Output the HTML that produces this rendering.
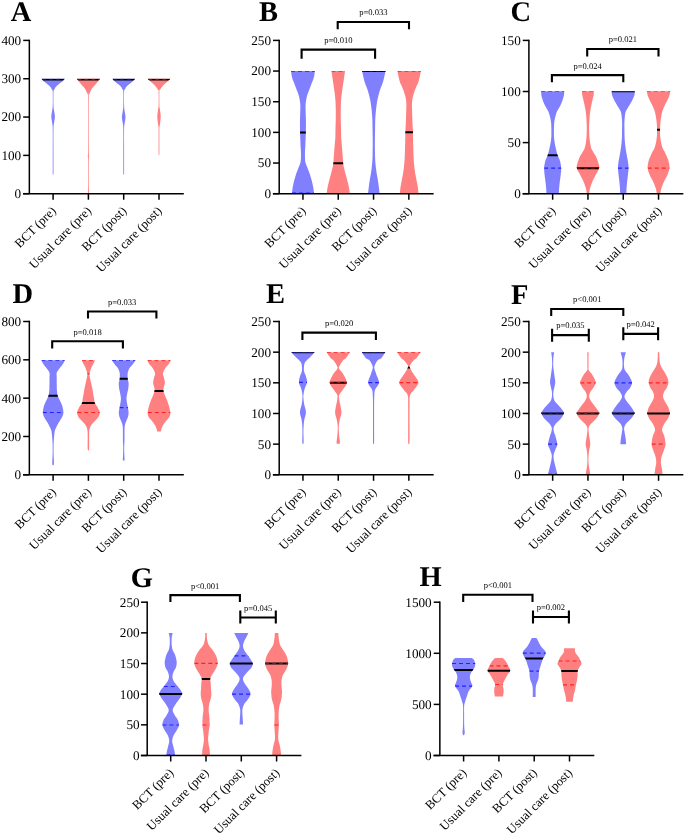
<!DOCTYPE html>
<html><head><meta charset="utf-8"><style>
html,body{margin:0;padding:0;background:#fff;}
svg{display:block;text-rendering:geometricPrecision;will-change:transform;}
.t{font-family:"Liberation Serif",serif;font-size:13.2px;fill:#000;}
.L{font-family:"Liberation Serif",serif;font-size:28.5px;font-weight:bold;fill:#000;}
.x{font-family:"Liberation Serif",serif;font-size:12.7px;fill:#000;}
.p{font-family:"Liberation Serif",serif;font-size:8.55px;fill:#000;}
</style></head><body>
<svg width="685" height="835" viewBox="0 0 685 835">
<rect width="100%" height="100%" fill="#fff"/>
<defs><polygon id="vA0" points="53.5,174.5 53.5,171.93 53.5,168.37 53.5,164.16 53.5,159.63 53.5,155.13 53.5,151 53.49,147 53.48,142.82 53.46,138.66 53.46,134.75 53.47,131.29 53.5,128.5 53.56,126.53 53.65,125.24 53.75,124.41 53.86,123.8 53.98,123.21 54.1,122.4 54.24,121.41 54.41,120.44 54.59,119.48 54.74,118.51 54.86,117.56 54.9,116.6 54.86,115.64 54.74,114.68 54.59,113.72 54.41,112.77 54.24,111.83 54.1,110.9 53.98,110.08 53.86,109.39 53.75,108.7 53.65,107.9 53.56,106.88 53.5,105.5 53.45,103.57 53.42,101.13 53.41,98.46 53.41,95.83 53.44,93.52 53.5,91.8 53.59,90.76 53.71,90.2 53.86,89.96 54.03,89.87 54.21,89.77 54.4,89.5 54.58,89.09 54.76,88.66 54.96,88.23 55.18,87.8 55.46,87.35 55.8,86.9 56.22,86.44 56.72,85.97 57.26,85.49 57.84,85.01 58.42,84.53 59,84.05 59.59,83.57 60.23,83.09 60.87,82.6 61.5,82.12 62.08,81.65 62.6,81.2 63.06,80.73 63.49,80.25 63.88,79.77 64.21,79.34 64.49,78.97 64.7,78.7 41.5,78.7 41.71,78.97 41.99,79.34 42.33,79.77 42.71,80.25 43.14,80.73 43.6,81.2 44.12,81.65 44.7,82.12 45.33,82.6 45.97,83.09 46.61,83.57 47.2,84.05 47.78,84.53 48.36,85.01 48.94,85.49 49.48,85.97 49.98,86.44 50.4,86.9 50.74,87.35 51.02,87.8 51.24,88.23 51.44,88.66 51.62,89.09 51.8,89.5 51.99,89.77 52.17,89.87 52.34,89.96 52.49,90.2 52.61,90.76 52.7,91.8 52.76,93.52 52.79,95.83 52.79,98.46 52.78,101.13 52.75,103.57 52.7,105.5 52.64,106.88 52.55,107.9 52.45,108.7 52.34,109.39 52.22,110.08 52.1,110.9 51.96,111.83 51.79,112.77 51.61,113.72 51.46,114.68 51.34,115.64 51.3,116.6 51.34,117.56 51.46,118.51 51.61,119.48 51.79,120.44 51.96,121.41 52.1,122.4 52.22,123.21 52.34,123.8 52.45,124.41 52.55,125.24 52.64,126.53 52.7,128.5 52.73,131.29 52.74,134.75 52.74,138.66 52.72,142.82 52.71,147 52.7,151 52.7,155.13 52.7,159.63 52.7,164.16 52.7,168.37 52.7,171.93 52.7,174.5"/><clipPath id="cA0"><use href="#vA0"/></clipPath></defs>
<use href="#vA0" fill="#8080ff"/>
<line x1="39.5" y1="79.4" x2="66.7" y2="79.4" stroke="#000" stroke-width="2" clip-path="url(#cA0)"/>
<line x1="42.04" y1="79.4" x2="65.16" y2="79.4" stroke="#10108a" stroke-width="1.2" stroke-dasharray="4 3" clip-path="url(#cA0)"/>
<defs><polygon id="vA1" points="88.8,193.7 88.81,193.29 88.84,192.72 88.86,192.04 88.88,191.31 88.9,190.58 88.9,189.9 88.89,189.5 88.86,189.39 88.83,189.27 88.8,188.86 88.77,187.87 88.75,186 88.74,182.84 88.73,178.54 88.73,173.66 88.73,168.76 88.73,164.38 88.75,161.1 88.78,159.04 88.83,157.78 88.89,157.06 88.94,156.6 88.98,156.13 89,155.4 88.98,154.98 88.94,155.21 88.89,155.43 88.83,155 88.78,153.28 88.75,149.6 88.73,142.96 88.71,133.67 88.71,123.08 88.71,112.53 88.72,103.39 88.75,97 88.79,93.72 88.85,92.56 88.91,92.79 88.99,93.71 89.09,94.62 89.2,94.8 89.33,94.38 89.46,93.94 89.62,93.49 89.79,93.01 89.98,92.52 90.2,92 90.44,91.45 90.69,90.86 90.96,90.25 91.27,89.63 91.61,89.01 92,88.4 92.46,87.8 92.97,87.2 93.53,86.6 94.1,86 94.67,85.4 95.2,84.8 95.71,84.19 96.23,83.56 96.73,82.93 97.22,82.32 97.68,81.74 98.1,81.2 98.5,80.69 98.88,80.19 99.23,79.73 99.54,79.31 99.8,78.96 100,78.7 76.8,78.7 77,78.96 77.26,79.31 77.57,79.73 77.92,80.19 78.3,80.69 78.7,81.2 79.12,81.74 79.58,82.32 80.07,82.93 80.57,83.56 81.09,84.19 81.6,84.8 82.13,85.4 82.7,86 83.27,86.6 83.83,87.2 84.34,87.8 84.8,88.4 85.19,89.01 85.53,89.63 85.84,90.25 86.11,90.86 86.36,91.45 86.6,92 86.82,92.52 87.01,93.01 87.18,93.49 87.34,93.94 87.47,94.38 87.6,94.8 87.71,94.62 87.81,93.71 87.89,92.79 87.95,92.56 88.01,93.72 88.05,97 88.08,103.39 88.09,112.53 88.09,123.08 88.09,133.67 88.07,142.96 88.05,149.6 88.02,153.28 87.97,155 87.91,155.43 87.86,155.21 87.82,154.98 87.8,155.4 87.82,156.13 87.86,156.6 87.91,157.06 87.97,157.78 88.02,159.04 88.05,161.1 88.07,164.38 88.07,168.76 88.08,173.66 88.07,178.54 88.06,182.84 88.05,186 88.03,187.87 88,188.86 87.97,189.27 87.94,189.39 87.91,189.5 87.9,189.9 87.9,190.58 87.92,191.31 87.94,192.04 87.96,192.72 87.99,193.29 88,193.7"/><clipPath id="cA1"><use href="#vA1"/></clipPath></defs>
<use href="#vA1" fill="#ff8080"/>
<line x1="74.8" y1="79.4" x2="102" y2="79.4" stroke="#000" stroke-width="2" clip-path="url(#cA1)"/>
<line x1="77.33" y1="79.4" x2="100.48" y2="79.4" stroke="#8a1010" stroke-width="1.2" stroke-dasharray="4 3" clip-path="url(#cA1)"/>
<defs><polygon id="vA2" points="124.1,174.5 124.1,171.93 124.1,168.35 124.1,164.12 124.1,159.59 124.1,155.1 124.1,151 124.09,147.06 124.08,142.97 124.06,138.91 124.06,135.1 124.07,131.73 124.1,129 124.16,127.06 124.25,125.78 124.35,124.94 124.46,124.32 124.58,123.72 124.7,122.9 124.84,121.91 125.01,120.94 125.19,119.98 125.34,119.01 125.46,118.06 125.5,117.1 125.46,116.14 125.34,115.18 125.19,114.22 125.01,113.27 124.84,112.33 124.7,111.4 124.58,110.59 124.46,109.91 124.35,109.25 124.25,108.46 124.16,107.42 124.1,106 124.05,103.97 124.02,101.39 124.01,98.55 124.01,95.76 124.04,93.31 124.1,91.5 124.19,90.43 124.31,89.87 124.46,89.66 124.63,89.61 124.81,89.55 125,89.3 125.18,88.89 125.36,88.47 125.56,88.04 125.78,87.6 126.06,87.15 126.4,86.7 126.83,86.24 127.33,85.78 127.88,85.31 128.45,84.84 129.03,84.37 129.6,83.9 130.17,83.43 130.77,82.95 131.38,82.48 131.96,82 132.51,81.54 133,81.1 133.44,80.65 133.84,80.18 134.21,79.72 134.53,79.31 134.8,78.96 135,78.7 112.4,78.7 112.6,78.96 112.87,79.31 113.19,79.72 113.56,80.18 113.96,80.65 114.4,81.1 114.89,81.54 115.44,82 116.03,82.48 116.63,82.95 117.23,83.43 117.8,83.9 118.37,84.37 118.95,84.84 119.53,85.31 120.07,85.78 120.57,86.24 121,86.7 121.34,87.15 121.62,87.6 121.84,88.04 122.04,88.47 122.22,88.89 122.4,89.3 122.59,89.55 122.77,89.61 122.94,89.66 123.09,89.87 123.21,90.43 123.3,91.5 123.36,93.31 123.39,95.76 123.39,98.55 123.38,101.39 123.35,103.97 123.3,106 123.24,107.42 123.15,108.46 123.05,109.25 122.94,109.91 122.82,110.59 122.7,111.4 122.56,112.33 122.39,113.27 122.21,114.22 122.06,115.18 121.94,116.14 121.9,117.1 121.94,118.06 122.06,119.01 122.21,119.98 122.39,120.94 122.56,121.91 122.7,122.9 122.82,123.72 122.94,124.32 123.05,124.94 123.15,125.78 123.24,127.06 123.3,129 123.33,131.73 123.34,135.1 123.34,138.91 123.32,142.97 123.31,147.06 123.3,151 123.3,155.1 123.3,159.59 123.3,164.12 123.3,168.35 123.3,171.93 123.3,174.5"/><clipPath id="cA2"><use href="#vA2"/></clipPath></defs>
<use href="#vA2" fill="#8080ff"/>
<line x1="110.4" y1="79.4" x2="137" y2="79.4" stroke="#000" stroke-width="2" clip-path="url(#cA2)"/>
<line x1="112.94" y1="79.4" x2="135.46" y2="79.4" stroke="#10108a" stroke-width="1.2" stroke-dasharray="4 3" clip-path="url(#cA2)"/>
<defs><polygon id="vA3" points="159.15,155.4 159.18,155.2 159.22,155.1 159.28,154.89 159.33,154.36 159.37,153.3 159.4,151.5 159.41,148.54 159.4,144.51 159.39,139.94 159.38,135.39 159.38,131.4 159.4,128.5 159.44,126.91 159.49,126.23 159.54,126.11 159.61,126.18 159.7,126.1 159.8,125.5 159.94,124.37 160.13,123 160.33,121.48 160.51,119.87 160.65,118.29 160.7,116.8 160.65,115.35 160.51,113.84 160.33,112.35 160.13,110.94 159.94,109.67 159.8,108.6 159.7,107.92 159.61,107.61 159.54,107.44 159.49,107.19 159.44,106.62 159.4,105.5 159.37,103.59 159.35,101.01 159.34,98.12 159.34,95.26 159.36,92.77 159.4,91 159.45,90.07 159.52,89.73 159.61,89.76 159.71,89.95 159.84,90.1 160,90 160.18,89.67 160.38,89.27 160.61,88.83 160.86,88.36 161.16,87.88 161.5,87.4 161.9,86.91 162.36,86.39 162.85,85.86 163.37,85.33 163.89,84.81 164.4,84.3 164.91,83.82 165.42,83.34 165.94,82.88 166.47,82.42 166.99,81.96 167.5,81.5 168.04,81 168.62,80.46 169.19,79.92 169.73,79.43 170.17,79 170.5,78.7 147.5,78.7 147.83,79 148.27,79.43 148.81,79.92 149.38,80.46 149.96,81 150.5,81.5 151.01,81.96 151.53,82.42 152.06,82.88 152.58,83.34 153.09,83.82 153.6,84.3 154.11,84.81 154.63,85.33 155.15,85.86 155.64,86.39 156.1,86.91 156.5,87.4 156.84,87.88 157.14,88.36 157.39,88.83 157.62,89.27 157.82,89.67 158,90 158.16,90.1 158.29,89.95 158.39,89.76 158.48,89.73 158.55,90.07 158.6,91 158.64,92.77 158.66,95.26 158.66,98.12 158.65,101.01 158.63,103.59 158.6,105.5 158.56,106.62 158.51,107.19 158.46,107.44 158.39,107.61 158.3,107.92 158.2,108.6 158.06,109.67 157.87,110.94 157.67,112.35 157.49,113.84 157.35,115.35 157.3,116.8 157.35,118.29 157.49,119.87 157.67,121.48 157.87,123 158.06,124.37 158.2,125.5 158.3,126.1 158.39,126.18 158.46,126.11 158.51,126.23 158.56,126.91 158.6,128.5 158.62,131.4 158.62,135.39 158.61,139.94 158.6,144.51 158.59,148.54 158.6,151.5 158.63,153.3 158.67,154.36 158.72,154.89 158.78,155.1 158.82,155.2 158.85,155.4"/><clipPath id="cA3"><use href="#vA3"/></clipPath></defs>
<use href="#vA3" fill="#ff8080"/>
<line x1="145.5" y1="79.4" x2="172.5" y2="79.4" stroke="#000" stroke-width="2" clip-path="url(#cA3)"/>
<line x1="148.25" y1="79.4" x2="170.75" y2="79.4" stroke="#8a1010" stroke-width="1.2" stroke-dasharray="4 3" clip-path="url(#cA3)"/>
<path d="M29.35,39.65V193.7M23,193.7H183.8" stroke="#000" stroke-width="1.5" fill="none"/>
<line x1="23.2" y1="193.7" x2="29.35" y2="193.7" stroke="#000" stroke-width="1.5"/>
<text x="21.2" y="198.1" text-anchor="end" class="t">0</text>
<line x1="23.2" y1="155.38" x2="29.35" y2="155.38" stroke="#000" stroke-width="1.5"/>
<text x="21.2" y="159.78" text-anchor="end" class="t">100</text>
<line x1="23.2" y1="117.05" x2="29.35" y2="117.05" stroke="#000" stroke-width="1.5"/>
<text x="21.2" y="121.45" text-anchor="end" class="t">200</text>
<line x1="23.2" y1="78.73" x2="29.35" y2="78.73" stroke="#000" stroke-width="1.5"/>
<text x="21.2" y="83.13" text-anchor="end" class="t">300</text>
<line x1="23.2" y1="40.4" x2="29.35" y2="40.4" stroke="#000" stroke-width="1.5"/>
<text x="21.2" y="44.8" text-anchor="end" class="t">400</text>
<line x1="53.1" y1="193.7" x2="53.1" y2="199.7" stroke="#000" stroke-width="1.5"/>
<text x="56.7" y="211.6" text-anchor="end" class="x" transform="rotate(-45 56.7 211.6)">BCT (pre)</text>
<line x1="88.4" y1="193.7" x2="88.4" y2="199.7" stroke="#000" stroke-width="1.5"/>
<text x="92" y="211.6" text-anchor="end" class="x" transform="rotate(-45 92 211.6)">Usual care (pre)</text>
<line x1="123.7" y1="193.7" x2="123.7" y2="199.7" stroke="#000" stroke-width="1.5"/>
<text x="127.3" y="211.6" text-anchor="end" class="x" transform="rotate(-45 127.3 211.6)">BCT (post)</text>
<line x1="159" y1="193.7" x2="159" y2="199.7" stroke="#000" stroke-width="1.5"/>
<text x="162.6" y="211.6" text-anchor="end" class="x" transform="rotate(-45 162.6 211.6)">Usual care (post)</text>
<text x="10.7" y="20.9" class="L">A</text>
<defs><polygon id="vB0" points="314.05,193.7 314.01,193.33 313.95,192.81 313.88,192.21 313.81,191.55 313.73,190.9 313.65,190.3 313.57,189.75 313.5,189.2 313.42,188.65 313.34,188.1 313.25,187.55 313.15,187 313.05,186.44 312.94,185.87 312.82,185.3 312.7,184.73 312.57,184.16 312.45,183.6 312.32,183.05 312.2,182.5 312.07,181.95 311.94,181.4 311.8,180.85 311.65,180.3 311.49,179.74 311.33,179.17 311.16,178.6 310.99,178.03 310.82,177.46 310.65,176.9 310.49,176.35 310.33,175.8 310.17,175.25 310.01,174.7 309.83,174.15 309.65,173.6 309.45,173.04 309.24,172.47 309.02,171.91 308.79,171.34 308.57,170.77 308.35,170.2 308.13,169.63 307.92,169.06 307.7,168.49 307.48,167.93 307.27,167.36 307.05,166.8 306.83,166.25 306.59,165.7 306.36,165.15 306.14,164.6 305.93,164.05 305.75,163.5 305.6,162.98 305.47,162.5 305.35,162.01 305.26,161.48 305.17,160.86 305.1,160.1 305.04,159.17 304.99,158.11 304.96,156.96 304.94,155.76 304.94,154.55 304.95,153.4 304.98,152.28 305.03,151.17 305.1,150.05 305.17,148.93 305.24,147.82 305.3,146.7 305.35,145.59 305.39,144.5 305.43,143.41 305.47,142.31 305.51,141.17 305.55,140 305.6,138.81 305.65,137.61 305.71,136.38 305.76,135.1 305.81,133.75 305.85,132.3 305.88,130.71 305.91,128.98 305.93,127.18 305.95,125.36 305.96,123.58 305.95,121.9 305.93,120.3 305.89,118.74 305.84,117.22 305.79,115.75 305.74,114.34 305.7,113 305.67,111.72 305.63,110.48 305.6,109.31 305.57,108.21 305.55,107.2 305.55,106.3 305.56,105.54 305.58,104.92 305.61,104.39 305.65,103.9 305.7,103.42 305.75,102.9 305.81,102.35 305.89,101.8 305.97,101.25 306.06,100.7 306.15,100.15 306.25,99.6 306.35,99.04 306.45,98.47 306.56,97.91 306.68,97.34 306.81,96.77 306.95,96.2 307.11,95.63 307.28,95.06 307.46,94.49 307.65,93.93 307.85,93.36 308.05,92.8 308.26,92.25 308.47,91.7 308.69,91.15 308.91,90.6 309.13,90.05 309.35,89.5 309.57,88.94 309.79,88.37 310.01,87.8 310.22,87.23 310.44,86.66 310.65,86.1 310.85,85.55 311.05,85 311.24,84.45 311.44,83.9 311.64,83.35 311.85,82.8 312.08,82.24 312.32,81.67 312.57,81.1 312.81,80.53 313.04,79.96 313.25,79.4 313.43,78.86 313.59,78.36 313.74,77.85 313.88,77.32 314.02,76.75 314.15,76.1 314.29,75.31 314.42,74.37 314.56,73.39 314.68,72.46 314.78,71.66 314.85,71.1 291.05,71.1 291.12,71.66 291.22,72.46 291.34,73.39 291.48,74.37 291.61,75.31 291.75,76.1 291.88,76.75 292.02,77.32 292.16,77.85 292.31,78.36 292.47,78.86 292.65,79.4 292.86,79.96 293.09,80.53 293.33,81.1 293.58,81.67 293.82,82.24 294.05,82.8 294.26,83.35 294.46,83.9 294.66,84.45 294.85,85 295.05,85.55 295.25,86.1 295.46,86.66 295.68,87.23 295.89,87.8 296.11,88.37 296.33,88.94 296.55,89.5 296.77,90.05 296.99,90.6 297.21,91.15 297.43,91.7 297.64,92.25 297.85,92.8 298.05,93.36 298.25,93.93 298.44,94.49 298.62,95.06 298.79,95.63 298.95,96.2 299.09,96.77 299.22,97.34 299.34,97.91 299.45,98.47 299.55,99.04 299.65,99.6 299.75,100.15 299.84,100.7 299.93,101.25 300.01,101.8 300.09,102.35 300.15,102.9 300.2,103.42 300.25,103.9 300.29,104.39 300.32,104.92 300.34,105.54 300.35,106.3 300.35,107.2 300.33,108.21 300.3,109.31 300.27,110.48 300.23,111.72 300.2,113 300.16,114.34 300.11,115.75 300.06,117.22 300.01,118.74 299.97,120.3 299.95,121.9 299.94,123.58 299.95,125.36 299.97,127.18 299.99,128.98 300.02,130.71 300.05,132.3 300.09,133.75 300.14,135.1 300.19,136.38 300.25,137.61 300.3,138.81 300.35,140 300.39,141.17 300.43,142.31 300.47,143.41 300.51,144.5 300.55,145.59 300.6,146.7 300.66,147.82 300.73,148.93 300.8,150.05 300.87,151.17 300.92,152.28 300.95,153.4 300.96,154.55 300.96,155.76 300.94,156.96 300.91,158.11 300.86,159.17 300.8,160.1 300.73,160.86 300.64,161.48 300.55,162.01 300.43,162.5 300.3,162.98 300.15,163.5 299.97,164.05 299.76,164.6 299.54,165.15 299.31,165.7 299.07,166.25 298.85,166.8 298.63,167.36 298.42,167.93 298.2,168.49 297.98,169.06 297.77,169.63 297.55,170.2 297.33,170.77 297.11,171.34 296.88,171.91 296.66,172.47 296.45,173.04 296.25,173.6 296.07,174.15 295.89,174.7 295.73,175.25 295.57,175.8 295.41,176.35 295.25,176.9 295.08,177.46 294.91,178.03 294.74,178.6 294.57,179.17 294.41,179.74 294.25,180.3 294.1,180.85 293.96,181.4 293.83,181.95 293.7,182.5 293.58,183.05 293.45,183.6 293.33,184.16 293.2,184.73 293.08,185.3 292.96,185.87 292.85,186.44 292.75,187 292.65,187.55 292.56,188.1 292.48,188.65 292.4,189.2 292.33,189.75 292.25,190.3 292.17,190.9 292.09,191.55 292.02,192.21 291.95,192.81 291.89,193.33 291.85,193.7"/><clipPath id="cB0"><use href="#vB0"/></clipPath></defs>
<use href="#vB0" fill="#8080ff"/>
<line x1="289.05" y1="132.4" x2="316.85" y2="132.4" stroke="#000" stroke-width="2" clip-path="url(#cB0)"/>
<line x1="291.05" y1="71.1" x2="315.85" y2="71.1" stroke="#2020ff" stroke-width="1.2" stroke-dasharray="4 3" clip-path="url(#cB0)"/>
<line x1="291.91" y1="193.2" x2="314.99" y2="193.2" stroke="#2020ff" stroke-width="1.2" stroke-dasharray="4 3" clip-path="url(#cB0)"/>
<defs><polygon id="vB1" points="349.85,193.7 349.85,193.69 349.85,193.71 349.86,193.72 349.85,193.65 349.81,193.43 349.75,193 349.65,192.31 349.54,191.42 349.39,190.37 349.23,189.25 349.05,188.1 348.85,187 348.63,185.92 348.38,184.82 348.11,183.69 347.82,182.56 347.54,181.42 347.25,180.3 346.96,179.18 346.66,178.07 346.36,176.96 346.05,175.84 345.75,174.72 345.45,173.6 345.15,172.44 344.84,171.22 344.52,170.01 344.23,168.83 343.97,167.75 343.75,166.8 343.58,166.01 343.45,165.34 343.36,164.77 343.28,164.24 343.21,163.73 343.15,163.2 343.1,162.7 343.06,162.26 343.04,161.84 343.02,161.38 343,160.82 342.95,160.1 342.88,159.19 342.81,158.13 342.72,156.97 342.63,155.77 342.54,154.56 342.45,153.4 342.37,152.28 342.29,151.17 342.21,150.05 342.12,148.93 342.04,147.82 341.95,146.7 341.85,145.54 341.74,144.31 341.63,143.09 341.52,141.93 341.43,140.88 341.35,140 341.29,139.41 341.25,139.08 341.22,138.87 341.2,138.62 341.18,138.18 341.15,137.4 341.12,136.23 341.1,134.77 341.08,133.13 341.06,131.39 341.03,129.65 341,128 340.96,126.42 340.91,124.84 340.87,123.26 340.82,121.67 340.78,120.08 340.75,118.5 340.73,116.92 340.72,115.33 340.71,113.75 340.71,112.17 340.72,110.58 340.75,109 340.79,107.42 340.83,105.83 340.88,104.25 340.95,102.67 341.04,101.08 341.15,99.5 341.29,97.91 341.46,96.31 341.64,94.71 341.84,93.11 342.05,91.54 342.25,90 342.45,88.51 342.66,87.06 342.88,85.64 343.09,84.2 343.32,82.73 343.55,81.2 343.81,79.47 344.09,77.56 344.38,75.6 344.65,73.77 344.88,72.21 345.05,71.1 331.45,71.1 331.62,72.21 331.85,73.77 332.12,75.6 332.41,77.56 332.69,79.47 332.95,81.2 333.18,82.73 333.41,84.2 333.62,85.64 333.84,87.06 334.05,88.51 334.25,90 334.45,91.54 334.66,93.11 334.86,94.71 335.04,96.31 335.21,97.91 335.35,99.5 335.46,101.08 335.55,102.67 335.62,104.25 335.67,105.83 335.71,107.42 335.75,109 335.78,110.58 335.79,112.17 335.79,113.75 335.78,115.33 335.77,116.92 335.75,118.5 335.72,120.08 335.68,121.67 335.63,123.26 335.59,124.84 335.54,126.42 335.5,128 335.47,129.65 335.44,131.39 335.42,133.13 335.4,134.77 335.38,136.23 335.35,137.4 335.32,138.18 335.3,138.62 335.28,138.87 335.25,139.08 335.21,139.41 335.15,140 335.07,140.88 334.98,141.93 334.87,143.09 334.76,144.31 334.65,145.54 334.55,146.7 334.46,147.82 334.38,148.93 334.29,150.05 334.21,151.17 334.13,152.28 334.05,153.4 333.96,154.56 333.87,155.77 333.78,156.97 333.69,158.13 333.62,159.19 333.55,160.1 333.5,160.82 333.48,161.38 333.46,161.84 333.44,162.26 333.4,162.7 333.35,163.2 333.29,163.73 333.22,164.24 333.14,164.77 333.05,165.34 332.92,166.01 332.75,166.8 332.53,167.75 332.27,168.83 331.98,170.01 331.66,171.22 331.35,172.44 331.05,173.6 330.75,174.72 330.45,175.84 330.14,176.96 329.84,178.07 329.54,179.18 329.25,180.3 328.96,181.42 328.68,182.56 328.39,183.69 328.12,184.82 327.87,185.92 327.65,187 327.45,188.1 327.27,189.25 327.11,190.37 326.96,191.42 326.85,192.31 326.75,193 326.69,193.43 326.65,193.65 326.64,193.72 326.65,193.71 326.65,193.69 326.65,193.7"/><clipPath id="cB1"><use href="#vB1"/></clipPath></defs>
<use href="#vB1" fill="#ff8080"/>
<line x1="324.64" y1="163.2" x2="351.86" y2="163.2" stroke="#000" stroke-width="2" clip-path="url(#cB1)"/>
<line x1="331.45" y1="71.1" x2="346.05" y2="71.1" stroke="#ff2020" stroke-width="1.2" stroke-dasharray="4 3" clip-path="url(#cB1)"/>
<defs><polygon id="vB2" points="379.6,193.7 379.6,193.69 379.6,193.71 379.59,193.72 379.58,193.65 379.55,193.43 379.5,193 379.42,192.31 379.32,191.42 379.2,190.37 379.07,189.25 378.94,188.1 378.8,187 378.67,185.92 378.53,184.82 378.38,183.69 378.23,182.56 378.07,181.42 377.9,180.3 377.71,179.18 377.51,178.07 377.3,176.96 377.09,175.84 376.89,174.72 376.7,173.6 376.53,172.47 376.37,171.34 376.21,170.2 376.07,169.06 375.93,167.93 375.8,166.8 375.68,165.68 375.56,164.56 375.46,163.44 375.36,162.33 375.27,161.22 375.2,160.1 375.14,158.98 375.1,157.87 375.07,156.75 375.04,155.63 375.02,154.52 375,153.4 374.98,152.28 374.96,151.17 374.94,150.05 374.92,148.93 374.91,147.82 374.9,146.7 374.89,145.64 374.89,144.66 374.88,143.68 374.88,142.63 374.89,141.42 374.9,140 374.92,138.28 374.95,136.3 374.99,134.18 375.03,132.01 375.06,129.92 375.1,128 375.13,126.27 375.14,124.65 375.16,123.09 375.19,121.57 375.23,120.05 375.3,118.5 375.39,116.92 375.5,115.33 375.62,113.75 375.77,112.17 375.93,110.58 376.1,109 376.29,107.42 376.48,105.83 376.69,104.25 376.93,102.67 377.2,101.08 377.5,99.5 377.84,97.91 378.23,96.31 378.64,94.71 379.07,93.11 379.53,91.54 380,90 380.5,88.51 381.05,87.06 381.61,85.64 382.17,84.2 382.71,82.73 383.2,81.2 383.66,79.47 384.12,77.56 384.55,75.6 384.94,73.77 385.26,72.21 385.5,71.1 362.1,71.1 362.34,72.21 362.66,73.77 363.05,75.6 363.48,77.56 363.94,79.47 364.4,81.2 364.89,82.73 365.43,84.2 365.99,85.64 366.55,87.06 367.1,88.51 367.6,90 368.07,91.54 368.53,93.11 368.96,94.71 369.37,96.31 369.76,97.91 370.1,99.5 370.4,101.08 370.67,102.67 370.91,104.25 371.12,105.83 371.31,107.42 371.5,109 371.68,110.58 371.83,112.17 371.98,113.75 372.1,115.33 372.21,116.92 372.3,118.5 372.37,120.05 372.41,121.57 372.44,123.09 372.46,124.65 372.47,126.27 372.5,128 372.54,129.92 372.57,132.01 372.61,134.18 372.65,136.3 372.68,138.28 372.7,140 372.71,141.42 372.72,142.63 372.72,143.68 372.71,144.66 372.71,145.64 372.7,146.7 372.69,147.82 372.68,148.93 372.66,150.05 372.64,151.17 372.62,152.28 372.6,153.4 372.58,154.52 372.56,155.63 372.53,156.75 372.5,157.87 372.46,158.98 372.4,160.1 372.33,161.22 372.24,162.33 372.14,163.44 372.04,164.56 371.92,165.68 371.8,166.8 371.67,167.93 371.53,169.06 371.39,170.2 371.23,171.34 371.07,172.47 370.9,173.6 370.71,174.72 370.51,175.84 370.3,176.96 370.09,178.07 369.89,179.18 369.7,180.3 369.53,181.42 369.37,182.56 369.22,183.69 369.07,184.82 368.93,185.92 368.8,187 368.66,188.1 368.53,189.25 368.4,190.37 368.28,191.42 368.18,192.31 368.1,193 368.05,193.43 368.02,193.65 368.01,193.72 368,193.71 368,193.69 368,193.7"/><clipPath id="cB2"><use href="#vB2"/></clipPath></defs>
<use href="#vB2" fill="#8080ff"/>
<line x1="360.1" y1="71.1" x2="387.5" y2="71.1" stroke="#000" stroke-width="2" clip-path="url(#cB2)"/>
<line x1="362.1" y1="71.1" x2="386.5" y2="71.1" stroke="#10108a" stroke-width="1.2" stroke-dasharray="4 3" clip-path="url(#cB2)"/>
<defs><polygon id="vB3" points="418.55,193.7 418.55,193.69 418.55,193.71 418.54,193.72 418.53,193.65 418.5,193.43 418.45,193 418.37,192.31 418.28,191.42 418.17,190.37 418.04,189.25 417.9,188.1 417.75,187 417.58,185.92 417.39,184.82 417.19,183.69 416.98,182.56 416.76,181.42 416.55,180.3 416.33,179.18 416.11,178.07 415.88,176.96 415.66,175.84 415.44,174.72 415.25,173.6 415.07,172.47 414.91,171.34 414.76,170.2 414.61,169.06 414.48,167.93 414.35,166.8 414.23,165.68 414.12,164.56 414.01,163.44 413.92,162.33 413.83,161.22 413.75,160.1 413.68,158.98 413.62,157.87 413.58,156.75 413.53,155.63 413.49,154.52 413.45,153.4 413.41,152.28 413.38,151.17 413.34,150.05 413.31,148.93 413.28,147.82 413.25,146.7 413.22,145.59 413.18,144.5 413.14,143.41 413.11,142.31 413.08,141.17 413.05,140 413.03,138.81 413.02,137.61 413.02,136.38 413.01,135.1 412.99,133.75 412.95,132.3 412.89,130.71 412.81,128.98 412.71,127.18 412.62,125.36 412.53,123.58 412.45,121.9 412.39,120.33 412.33,118.83 412.28,117.36 412.24,115.92 412.19,114.47 412.15,113 412.1,111.48 412.04,109.92 411.98,108.36 411.94,106.83 411.92,105.37 411.95,104 412.01,102.77 412.08,101.65 412.18,100.59 412.32,99.55 412.51,98.47 412.75,97.3 413.06,96.03 413.42,94.7 413.84,93.33 414.29,91.94 414.76,90.56 415.25,89.2 415.78,87.89 416.36,86.6 416.97,85.33 417.57,84.02 418.14,82.65 418.65,81.2 419.11,79.52 419.55,77.61 419.96,75.65 420.32,73.8 420.62,72.22 420.85,71.1 397.45,71.1 397.68,72.22 397.98,73.8 398.34,75.65 398.75,77.61 399.19,79.52 399.65,81.2 400.16,82.65 400.73,84.02 401.33,85.33 401.94,86.6 402.52,87.89 403.05,89.2 403.54,90.56 404.01,91.94 404.46,93.33 404.88,94.7 405.24,96.03 405.55,97.3 405.79,98.47 405.98,99.55 406.12,100.59 406.22,101.65 406.29,102.77 406.35,104 406.38,105.37 406.36,106.83 406.32,108.36 406.26,109.92 406.2,111.48 406.15,113 406.11,114.47 406.06,115.92 406.02,117.36 405.97,118.83 405.91,120.33 405.85,121.9 405.77,123.58 405.68,125.36 405.59,127.18 405.49,128.98 405.41,130.71 405.35,132.3 405.31,133.75 405.29,135.1 405.28,136.38 405.28,137.61 405.27,138.81 405.25,140 405.22,141.17 405.19,142.31 405.16,143.41 405.12,144.5 405.08,145.59 405.05,146.7 405.02,147.82 404.99,148.93 404.96,150.05 404.92,151.17 404.89,152.28 404.85,153.4 404.81,154.52 404.77,155.63 404.73,156.75 404.68,157.87 404.62,158.98 404.55,160.1 404.47,161.22 404.38,162.33 404.29,163.44 404.18,164.56 404.07,165.68 403.95,166.8 403.82,167.93 403.69,169.06 403.54,170.2 403.39,171.34 403.23,172.47 403.05,173.6 402.86,174.72 402.64,175.84 402.42,176.96 402.19,178.07 401.97,179.18 401.75,180.3 401.54,181.42 401.32,182.56 401.11,183.69 400.91,184.82 400.72,185.92 400.55,187 400.4,188.1 400.26,189.25 400.13,190.37 400.02,191.42 399.93,192.31 399.85,193 399.8,193.43 399.77,193.65 399.76,193.72 399.75,193.71 399.75,193.69 399.75,193.7"/><clipPath id="cB3"><use href="#vB3"/></clipPath></defs>
<use href="#vB3" fill="#ff8080"/>
<line x1="395.45" y1="132.2" x2="422.85" y2="132.2" stroke="#000" stroke-width="2" clip-path="url(#cB3)"/>
<line x1="397.45" y1="71.1" x2="421.85" y2="71.1" stroke="#ff2020" stroke-width="1.2" stroke-dasharray="4 3" clip-path="url(#cB3)"/>
<path d="M279.2,39.65V193.7M272.85,193.7H433.65" stroke="#000" stroke-width="1.5" fill="none"/>
<line x1="273.05" y1="193.7" x2="279.2" y2="193.7" stroke="#000" stroke-width="1.5"/>
<text x="271.05" y="198.1" text-anchor="end" class="t">0</text>
<line x1="273.05" y1="163.04" x2="279.2" y2="163.04" stroke="#000" stroke-width="1.5"/>
<text x="271.05" y="167.44" text-anchor="end" class="t">50</text>
<line x1="273.05" y1="132.38" x2="279.2" y2="132.38" stroke="#000" stroke-width="1.5"/>
<text x="271.05" y="136.78" text-anchor="end" class="t">100</text>
<line x1="273.05" y1="101.72" x2="279.2" y2="101.72" stroke="#000" stroke-width="1.5"/>
<text x="271.05" y="106.12" text-anchor="end" class="t">150</text>
<line x1="273.05" y1="71.06" x2="279.2" y2="71.06" stroke="#000" stroke-width="1.5"/>
<text x="271.05" y="75.46" text-anchor="end" class="t">200</text>
<line x1="273.05" y1="40.4" x2="279.2" y2="40.4" stroke="#000" stroke-width="1.5"/>
<text x="271.05" y="44.8" text-anchor="end" class="t">250</text>
<line x1="302.95" y1="193.7" x2="302.95" y2="199.7" stroke="#000" stroke-width="1.5"/>
<text x="306.55" y="211.6" text-anchor="end" class="x" transform="rotate(-45 306.55 211.6)">BCT (pre)</text>
<line x1="338.25" y1="193.7" x2="338.25" y2="199.7" stroke="#000" stroke-width="1.5"/>
<text x="341.85" y="211.6" text-anchor="end" class="x" transform="rotate(-45 341.85 211.6)">Usual care (pre)</text>
<line x1="373.55" y1="193.7" x2="373.55" y2="199.7" stroke="#000" stroke-width="1.5"/>
<text x="377.15" y="211.6" text-anchor="end" class="x" transform="rotate(-45 377.15 211.6)">BCT (post)</text>
<line x1="408.85" y1="193.7" x2="408.85" y2="199.7" stroke="#000" stroke-width="1.5"/>
<text x="412.45" y="211.6" text-anchor="end" class="x" transform="rotate(-45 412.45 211.6)">Usual care (post)</text>
<text x="258.95" y="20.9" class="L">B</text>
<defs><polygon id="vC0" points="558.85,193.7 558.85,193.7 558.84,193.73 558.83,193.76 558.83,193.71 558.83,193.54 558.85,193.2 558.88,192.66 558.91,191.96 558.96,191.14 559.01,190.24 559.07,189.28 559.15,188.3 559.24,187.28 559.35,186.18 559.46,185.03 559.59,183.84 559.72,182.66 559.85,181.5 559.99,180.36 560.15,179.21 560.32,178.06 560.48,176.9 560.63,175.75 560.75,174.6 560.86,173.45 560.98,172.3 561.08,171.15 561.15,170 561.18,168.85 561.15,167.7 561.06,166.53 560.91,165.35 560.72,164.16 560.49,163 560.23,161.87 559.95,160.8 559.63,159.83 559.25,158.94 558.85,158.1 558.44,157.24 558.03,156.33 557.65,155.3 557.29,154.16 556.94,152.94 556.6,151.66 556.27,150.33 555.95,148.97 555.65,147.6 555.36,146.2 555.06,144.75 554.79,143.27 554.54,141.77 554.32,140.28 554.15,138.8 554.03,137.33 553.96,135.86 553.93,134.39 553.92,132.93 553.93,131.46 553.95,130 553.97,128.55 553.99,127.1 554.03,125.65 554.1,124.2 554.22,122.75 554.4,121.3 554.65,119.8 554.97,118.23 555.33,116.67 555.73,115.16 556.14,113.75 556.55,112.5 556.98,111.43 557.44,110.5 557.92,109.68 558.39,108.93 558.84,108.21 559.25,107.5 559.61,106.82 559.95,106.21 560.26,105.64 560.55,105.07 560.85,104.47 561.15,103.8 561.47,103.05 561.79,102.25 562.11,101.42 562.41,100.58 562.7,99.77 562.95,99 563.17,98.28 563.37,97.6 563.54,96.94 563.7,96.29 563.83,95.65 563.95,95 564.04,94.31 564.11,93.58 564.16,92.85 564.2,92.18 564.23,91.61 564.25,91.2 541.05,91.2 541.07,91.61 541.1,92.18 541.14,92.85 541.19,93.58 541.26,94.31 541.35,95 541.47,95.65 541.6,96.29 541.76,96.94 541.93,97.6 542.13,98.28 542.35,99 542.6,99.77 542.89,100.58 543.19,101.42 543.51,102.25 543.83,103.05 544.15,103.8 544.45,104.47 544.75,105.07 545.04,105.64 545.35,106.21 545.69,106.82 546.05,107.5 546.46,108.21 546.91,108.93 547.38,109.68 547.86,110.5 548.32,111.43 548.75,112.5 549.16,113.75 549.57,115.16 549.97,116.67 550.33,118.23 550.65,119.8 550.9,121.3 551.08,122.75 551.2,124.2 551.27,125.65 551.31,127.1 551.33,128.55 551.35,130 551.37,131.46 551.38,132.93 551.37,134.39 551.34,135.86 551.27,137.33 551.15,138.8 550.98,140.28 550.76,141.77 550.51,143.27 550.24,144.75 549.94,146.2 549.65,147.6 549.35,148.97 549.03,150.33 548.7,151.66 548.36,152.94 548.01,154.16 547.65,155.3 547.27,156.33 546.86,157.24 546.45,158.1 546.05,158.94 545.67,159.83 545.35,160.8 545.07,161.87 544.81,163 544.58,164.16 544.39,165.35 544.24,166.53 544.15,167.7 544.12,168.85 544.15,170 544.22,171.15 544.32,172.3 544.44,173.45 544.55,174.6 544.67,175.75 544.82,176.9 544.98,178.06 545.15,179.21 545.31,180.36 545.45,181.5 545.58,182.66 545.71,183.84 545.84,185.03 545.95,186.18 546.06,187.28 546.15,188.3 546.23,189.28 546.29,190.24 546.34,191.14 546.39,191.96 546.42,192.66 546.45,193.2 546.47,193.54 546.47,193.71 546.47,193.76 546.46,193.73 546.45,193.7 546.45,193.7"/><clipPath id="cC0"><use href="#vC0"/></clipPath></defs>
<use href="#vC0" fill="#8080ff"/>
<line x1="539.05" y1="155.3" x2="566.25" y2="155.3" stroke="#000" stroke-width="2" clip-path="url(#cC0)"/>
<line x1="544.14" y1="168.15" x2="562.16" y2="168.15" stroke="#2020ff" stroke-width="1.2" stroke-dasharray="4 3" clip-path="url(#cC0)"/>
<line x1="541.05" y1="91.2" x2="565.25" y2="91.2" stroke="#2020ff" stroke-width="1.2" stroke-dasharray="4 3" clip-path="url(#cC0)"/>
<defs><polygon id="vC1" points="588.95,193.7 588.96,193.7 588.98,193.73 588.99,193.76 589.02,193.71 589.07,193.54 589.15,193.2 589.24,192.66 589.34,191.96 589.46,191.14 589.61,190.24 589.81,189.28 590.05,188.3 590.35,187.28 590.7,186.18 591.09,185.03 591.52,183.84 591.97,182.66 592.45,181.5 592.96,180.36 593.51,179.21 594.09,178.06 594.69,176.9 595.28,175.75 595.85,174.6 596.46,173.45 597.14,172.3 597.81,171.15 598.41,170 598.88,168.85 599.15,167.7 599.18,166.52 599.02,165.31 598.72,164.1 598.35,162.92 597.97,161.81 597.65,160.8 597.38,159.91 597.1,159.11 596.82,158.39 596.52,157.7 596.2,157.01 595.85,156.3 595.46,155.57 595.03,154.86 594.58,154.14 594.12,153.43 593.67,152.72 593.25,152 592.85,151.32 592.46,150.7 592.08,150.08 591.72,149.4 591.37,148.59 591.05,147.6 590.75,146.39 590.46,144.99 590.19,143.48 589.94,141.9 589.73,140.32 589.55,138.8 589.41,137.33 589.31,135.86 589.24,134.39 589.2,132.93 589.17,131.46 589.15,130 589.14,128.55 589.15,127.1 589.18,125.65 589.22,124.2 589.28,122.75 589.35,121.3 589.43,119.84 589.51,118.37 589.61,116.9 589.73,115.43 589.88,113.96 590.05,112.5 590.26,111.05 590.5,109.6 590.77,108.15 591.05,106.7 591.35,105.25 591.65,103.8 591.98,102.28 592.35,100.69 592.74,99.09 593.1,97.57 593.42,96.18 593.65,95 593.79,94.03 593.86,93.22 593.88,92.55 593.86,92 593.85,91.56 593.85,91.2 582.05,91.2 582.05,91.56 582.04,92 582.03,92.55 582.04,93.22 582.11,94.03 582.25,95 582.48,96.18 582.8,97.57 583.16,99.09 583.55,100.69 583.92,102.28 584.25,103.8 584.55,105.25 584.85,106.7 585.13,108.15 585.4,109.6 585.64,111.05 585.85,112.5 586.02,113.96 586.17,115.43 586.29,116.9 586.39,118.37 586.47,119.84 586.55,121.3 586.62,122.75 586.68,124.2 586.72,125.65 586.75,127.1 586.76,128.55 586.75,130 586.73,131.46 586.7,132.93 586.66,134.39 586.59,135.86 586.49,137.33 586.35,138.8 586.17,140.32 585.96,141.9 585.71,143.48 585.44,144.99 585.15,146.39 584.85,147.6 584.53,148.59 584.18,149.4 583.82,150.08 583.44,150.7 583.05,151.32 582.65,152 582.23,152.72 581.78,153.43 581.33,154.14 580.87,154.86 580.44,155.57 580.05,156.3 579.7,157.01 579.38,157.7 579.08,158.39 578.8,159.11 578.52,159.91 578.25,160.8 577.93,161.81 577.55,162.92 577.18,164.1 576.88,165.31 576.72,166.52 576.75,167.7 577.02,168.85 577.49,170 578.09,171.15 578.76,172.3 579.44,173.45 580.05,174.6 580.62,175.75 581.21,176.9 581.81,178.06 582.39,179.21 582.94,180.36 583.45,181.5 583.93,182.66 584.38,183.84 584.81,185.03 585.2,186.18 585.55,187.28 585.85,188.3 586.09,189.28 586.29,190.24 586.44,191.14 586.56,191.96 586.66,192.66 586.75,193.2 586.83,193.54 586.88,193.71 586.91,193.76 586.92,193.73 586.94,193.7 586.95,193.7"/><clipPath id="cC1"><use href="#vC1"/></clipPath></defs>
<use href="#vC1" fill="#ff8080"/>
<line x1="574.72" y1="168.15" x2="601.18" y2="168.15" stroke="#000" stroke-width="2" clip-path="url(#cC1)"/>
<line x1="576.86" y1="168.15" x2="600.04" y2="168.15" stroke="#8a1010" stroke-width="1.2" stroke-dasharray="4 3" clip-path="url(#cC1)"/>
<line x1="582.05" y1="91.2" x2="594.85" y2="91.2" stroke="#ff2020" stroke-width="1.2" stroke-dasharray="4 3" clip-path="url(#cC1)"/>
<defs><polygon id="vC2" points="626.35,193.7 626.37,193.13 626.39,192.35 626.41,191.43 626.45,190.4 626.49,189.34 626.55,188.3 626.62,187.25 626.71,186.14 626.81,184.99 626.92,183.83 627.03,182.66 627.15,181.5 627.27,180.36 627.41,179.21 627.55,178.06 627.69,176.9 627.83,175.75 627.95,174.6 628.08,173.45 628.21,172.3 628.34,171.15 628.45,170 628.53,168.85 628.55,167.7 628.51,166.52 628.42,165.31 628.29,164.1 628.15,162.92 627.99,161.81 627.85,160.8 627.72,159.96 627.58,159.28 627.44,158.66 627.29,158.02 627.13,157.27 626.95,156.3 626.74,155.09 626.5,153.71 626.25,152.22 626,150.66 625.76,149.1 625.55,147.6 625.36,146.14 625.19,144.67 625.02,143.21 624.88,141.74 624.75,140.27 624.65,138.8 624.57,137.33 624.52,135.86 624.49,134.39 624.48,132.93 624.46,131.46 624.45,130 624.43,128.55 624.4,127.1 624.38,125.65 624.37,124.2 624.39,122.75 624.45,121.3 624.54,119.79 624.66,118.21 624.81,116.64 624.98,115.12 625.2,113.72 625.45,112.5 625.76,111.5 626.11,110.67 626.51,109.96 626.92,109.32 627.34,108.68 627.75,108 628.15,107.29 628.56,106.6 628.98,105.92 629.4,105.23 629.83,104.53 630.25,103.8 630.69,103.03 631.15,102.21 631.61,101.39 632.05,100.56 632.47,99.76 632.85,99 633.19,98.28 633.5,97.6 633.79,96.94 634.04,96.29 634.26,95.65 634.45,95 634.59,94.31 634.69,93.58 634.75,92.85 634.79,92.18 634.82,91.61 634.85,91.2 611.65,91.2 611.68,91.61 611.71,92.18 611.75,92.85 611.81,93.58 611.91,94.31 612.05,95 612.24,95.65 612.46,96.29 612.71,96.94 613,97.6 613.31,98.28 613.65,99 614.03,99.76 614.45,100.56 614.89,101.39 615.35,102.21 615.81,103.03 616.25,103.8 616.67,104.53 617.1,105.23 617.52,105.92 617.94,106.6 618.35,107.29 618.75,108 619.16,108.68 619.58,109.32 619.99,109.96 620.39,110.67 620.74,111.5 621.05,112.5 621.3,113.72 621.52,115.12 621.69,116.64 621.84,118.21 621.96,119.79 622.05,121.3 622.11,122.75 622.13,124.2 622.12,125.65 622.1,127.1 622.07,128.55 622.05,130 622.04,131.46 622.02,132.93 622.01,134.39 621.98,135.86 621.93,137.33 621.85,138.8 621.75,140.27 621.62,141.74 621.48,143.21 621.31,144.67 621.14,146.14 620.95,147.6 620.74,149.1 620.5,150.66 620.25,152.22 620,153.71 619.76,155.09 619.55,156.3 619.37,157.27 619.21,158.02 619.06,158.66 618.92,159.28 618.78,159.96 618.65,160.8 618.51,161.81 618.35,162.92 618.21,164.1 618.08,165.31 617.99,166.52 617.95,167.7 617.97,168.85 618.05,170 618.16,171.15 618.29,172.3 618.42,173.45 618.55,174.6 618.67,175.75 618.81,176.9 618.95,178.06 619.09,179.21 619.23,180.36 619.35,181.5 619.47,182.66 619.58,183.83 619.69,184.99 619.79,186.14 619.88,187.25 619.95,188.3 620.01,189.34 620.05,190.4 620.09,191.43 620.11,192.35 620.13,193.13 620.15,193.7"/><clipPath id="cC2"><use href="#vC2"/></clipPath></defs>
<use href="#vC2" fill="#8080ff"/>
<line x1="609.65" y1="91.2" x2="636.85" y2="91.2" stroke="#000" stroke-width="2" clip-path="url(#cC2)"/>
<line x1="617.96" y1="168.15" x2="629.54" y2="168.15" stroke="#2020ff" stroke-width="1.2" stroke-dasharray="4 3" clip-path="url(#cC2)"/>
<defs><polygon id="vC3" points="660.15,193.7 660.16,193.7 660.17,193.73 660.19,193.76 660.22,193.71 660.27,193.54 660.35,193.2 660.45,192.66 660.56,191.96 660.69,191.14 660.86,190.24 661.08,189.28 661.35,188.3 661.69,187.28 662.09,186.18 662.54,185.03 663.03,183.84 663.53,182.66 664.05,181.5 664.61,180.36 665.22,179.21 665.85,178.06 666.47,176.9 667.05,175.75 667.55,174.6 667.99,173.45 668.41,172.3 668.78,171.15 669.09,170 669.32,168.85 669.45,167.7 669.46,166.52 669.36,165.31 669.18,164.1 668.95,162.92 668.7,161.81 668.45,160.8 668.2,159.91 667.91,159.11 667.61,158.39 667.29,157.7 666.97,157.01 666.65,156.3 666.34,155.57 666.04,154.86 665.73,154.14 665.42,153.43 665.09,152.72 664.75,152 664.39,151.32 664,150.7 663.61,150.08 663.21,149.4 662.82,148.59 662.45,147.6 662.08,146.39 661.7,144.99 661.33,143.48 660.99,141.9 660.69,140.32 660.45,138.8 660.28,137.33 660.16,135.86 660.09,134.39 660.06,132.93 660.05,131.46 660.05,130 660.07,128.55 660.11,127.1 660.18,125.65 660.28,124.2 660.4,122.75 660.55,121.3 660.74,119.79 660.97,118.21 661.23,116.64 661.51,115.12 661.78,113.72 662.05,112.5 662.31,111.5 662.56,110.67 662.82,109.96 663.09,109.32 663.36,108.68 663.65,108 663.94,107.29 664.24,106.6 664.55,105.92 664.87,105.23 665.2,104.53 665.55,103.8 665.93,103.03 666.34,102.21 666.77,101.39 667.19,100.56 667.59,99.76 667.95,99 668.27,98.28 668.58,97.6 668.86,96.94 669.11,96.29 669.34,95.65 669.55,95 669.73,94.31 669.88,93.58 670,92.85 670.1,92.18 670.18,91.61 670.25,91.2 646.85,91.2 646.92,91.61 647,92.18 647.1,92.85 647.22,93.58 647.37,94.31 647.55,95 647.76,95.65 647.99,96.29 648.24,96.94 648.52,97.6 648.83,98.28 649.15,99 649.51,99.76 649.91,100.56 650.33,101.39 650.76,102.21 651.17,103.03 651.55,103.8 651.9,104.53 652.23,105.23 652.55,105.92 652.86,106.6 653.16,107.29 653.45,108 653.74,108.68 654.01,109.32 654.27,109.96 654.54,110.67 654.79,111.5 655.05,112.5 655.32,113.72 655.59,115.12 655.87,116.64 656.13,118.21 656.36,119.79 656.55,121.3 656.7,122.75 656.82,124.2 656.92,125.65 656.99,127.1 657.03,128.55 657.05,130 657.05,131.46 657.04,132.93 657.01,134.39 656.94,135.86 656.82,137.33 656.65,138.8 656.41,140.32 656.11,141.9 655.77,143.48 655.4,144.99 655.02,146.39 654.65,147.6 654.28,148.59 653.89,149.4 653.49,150.08 653.1,150.7 652.71,151.32 652.35,152 652.01,152.72 651.68,153.43 651.37,154.14 651.06,154.86 650.76,155.57 650.45,156.3 650.13,157.01 649.81,157.7 649.49,158.39 649.19,159.11 648.9,159.91 648.65,160.8 648.4,161.81 648.15,162.92 647.92,164.1 647.74,165.31 647.64,166.52 647.65,167.7 647.78,168.85 648.01,170 648.32,171.15 648.69,172.3 649.11,173.45 649.55,174.6 650.05,175.75 650.63,176.9 651.25,178.06 651.88,179.21 652.49,180.36 653.05,181.5 653.57,182.66 654.07,183.84 654.56,185.03 655.01,186.18 655.41,187.28 655.75,188.3 656.02,189.28 656.24,190.24 656.41,191.14 656.54,191.96 656.65,192.66 656.75,193.2 656.83,193.54 656.88,193.71 656.91,193.76 656.93,193.73 656.94,193.7 656.95,193.7"/><clipPath id="cC3"><use href="#vC3"/></clipPath></defs>
<use href="#vC3" fill="#ff8080"/>
<line x1="644.85" y1="129.7" x2="672.25" y2="129.7" stroke="#000" stroke-width="2" clip-path="url(#cC3)"/>
<line x1="647.7" y1="168.15" x2="670.4" y2="168.15" stroke="#ff2020" stroke-width="1.2" stroke-dasharray="4 3" clip-path="url(#cC3)"/>
<line x1="646.85" y1="91.2" x2="671.25" y2="91.2" stroke="#ff2020" stroke-width="1.2" stroke-dasharray="4 3" clip-path="url(#cC3)"/>
<path d="M528.9,39.65V193.7M522.55,193.7H683.35" stroke="#000" stroke-width="1.5" fill="none"/>
<line x1="522.75" y1="193.7" x2="528.9" y2="193.7" stroke="#000" stroke-width="1.5"/>
<text x="520.75" y="198.1" text-anchor="end" class="t">0</text>
<line x1="522.75" y1="142.6" x2="528.9" y2="142.6" stroke="#000" stroke-width="1.5"/>
<text x="520.75" y="147" text-anchor="end" class="t">50</text>
<line x1="522.75" y1="91.5" x2="528.9" y2="91.5" stroke="#000" stroke-width="1.5"/>
<text x="520.75" y="95.9" text-anchor="end" class="t">100</text>
<line x1="522.75" y1="40.4" x2="528.9" y2="40.4" stroke="#000" stroke-width="1.5"/>
<text x="520.75" y="44.8" text-anchor="end" class="t">150</text>
<line x1="552.65" y1="193.7" x2="552.65" y2="199.7" stroke="#000" stroke-width="1.5"/>
<text x="556.25" y="211.6" text-anchor="end" class="x" transform="rotate(-45 556.25 211.6)">BCT (pre)</text>
<line x1="587.95" y1="193.7" x2="587.95" y2="199.7" stroke="#000" stroke-width="1.5"/>
<text x="591.55" y="211.6" text-anchor="end" class="x" transform="rotate(-45 591.55 211.6)">Usual care (pre)</text>
<line x1="623.25" y1="193.7" x2="623.25" y2="199.7" stroke="#000" stroke-width="1.5"/>
<text x="626.85" y="211.6" text-anchor="end" class="x" transform="rotate(-45 626.85 211.6)">BCT (post)</text>
<line x1="658.55" y1="193.7" x2="658.55" y2="199.7" stroke="#000" stroke-width="1.5"/>
<text x="662.15" y="211.6" text-anchor="end" class="x" transform="rotate(-45 662.15 211.6)">Usual care (post)</text>
<text x="510.6" y="20.9" class="L">C</text>
<defs><polygon id="vD0" points="53.6,465.2 53.64,465.11 53.69,465 53.75,464.86 53.81,464.67 53.86,464.42 53.9,464.1 53.92,463.72 53.93,463.3 53.94,462.82 53.93,462.26 53.92,461.59 53.9,460.8 53.86,459.87 53.81,458.8 53.75,457.64 53.69,456.4 53.64,455.11 53.6,453.8 53.58,452.42 53.57,450.93 53.56,449.4 53.57,447.88 53.58,446.42 53.6,445.1 53.63,443.9 53.67,442.78 53.73,441.73 53.78,440.74 53.84,439.8 53.9,438.9 53.96,438.06 54.01,437.3 54.08,436.59 54.14,435.9 54.21,435.21 54.3,434.5 54.38,433.77 54.46,433.03 54.55,432.29 54.66,431.56 54.8,430.83 55,430.1 55.25,429.38 55.56,428.66 55.89,427.95 56.26,427.24 56.63,426.52 57,425.8 57.37,425.07 57.76,424.34 58.16,423.61 58.56,422.87 58.98,422.13 59.4,421.4 59.85,420.67 60.33,419.94 60.82,419.21 61.29,418.48 61.73,417.74 62.1,417 62.43,416.27 62.73,415.56 62.99,414.84 63.2,414.09 63.34,413.28 63.4,412.4 63.36,411.4 63.23,410.3 63.03,409.14 62.77,407.98 62.49,406.85 62.2,405.8 61.88,404.84 61.51,403.92 61.11,403.04 60.7,402.18 60.29,401.34 59.9,400.5 59.51,399.68 59.11,398.9 58.71,398.12 58.33,397.35 57.98,396.55 57.7,395.7 57.48,394.79 57.3,393.81 57.17,392.82 57.06,391.83 56.98,390.88 56.9,390 56.84,389.2 56.81,388.47 56.81,387.77 56.81,387.09 56.81,386.41 56.8,385.7 56.78,384.97 56.76,384.24 56.74,383.51 56.73,382.77 56.71,382.03 56.7,381.3 56.69,380.57 56.69,379.83 56.69,379.1 56.69,378.37 56.69,377.63 56.7,376.9 56.68,376.17 56.62,375.43 56.56,374.7 56.55,373.97 56.61,373.23 56.8,372.5 57.13,371.77 57.58,371.03 58.11,370.29 58.68,369.56 59.25,368.83 59.8,368.1 60.34,367.37 60.9,366.63 61.48,365.89 62.03,365.17 62.55,364.47 63,363.8 63.4,363.13 63.77,362.44 64.1,361.78 64.39,361.18 64.62,360.67 64.8,360.3 41.4,360.3 41.58,360.67 41.81,361.18 42.1,361.78 42.43,362.44 42.8,363.13 43.2,363.8 43.65,364.47 44.17,365.17 44.73,365.89 45.3,366.63 45.86,367.37 46.4,368.1 46.95,368.83 47.52,369.56 48.09,370.29 48.62,371.03 49.07,371.77 49.4,372.5 49.59,373.23 49.65,373.97 49.64,374.7 49.58,375.43 49.52,376.17 49.5,376.9 49.51,377.63 49.51,378.37 49.51,379.1 49.51,379.83 49.51,380.57 49.5,381.3 49.49,382.03 49.47,382.77 49.46,383.51 49.44,384.24 49.42,384.97 49.4,385.7 49.39,386.41 49.39,387.09 49.39,387.77 49.39,388.47 49.36,389.2 49.3,390 49.22,390.88 49.14,391.83 49.03,392.82 48.9,393.81 48.72,394.79 48.5,395.7 48.22,396.55 47.87,397.35 47.49,398.12 47.09,398.9 46.69,399.68 46.3,400.5 45.91,401.34 45.5,402.18 45.09,403.04 44.69,403.92 44.32,404.84 44,405.8 43.71,406.85 43.43,407.98 43.17,409.14 42.97,410.3 42.84,411.4 42.8,412.4 42.86,413.28 43,414.09 43.21,414.84 43.47,415.56 43.77,416.27 44.1,417 44.47,417.74 44.91,418.48 45.38,419.21 45.87,419.94 46.35,420.67 46.8,421.4 47.22,422.13 47.64,422.87 48.04,423.61 48.44,424.34 48.83,425.07 49.2,425.8 49.57,426.52 49.94,427.24 50.31,427.95 50.64,428.66 50.95,429.38 51.2,430.1 51.4,430.83 51.54,431.56 51.65,432.29 51.74,433.03 51.82,433.77 51.9,434.5 51.99,435.21 52.06,435.9 52.12,436.59 52.19,437.3 52.24,438.06 52.3,438.9 52.36,439.8 52.42,440.74 52.48,441.73 52.53,442.78 52.57,443.9 52.6,445.1 52.62,446.42 52.63,447.88 52.64,449.4 52.63,450.93 52.62,452.42 52.6,453.8 52.56,455.11 52.51,456.4 52.45,457.64 52.39,458.8 52.34,459.87 52.3,460.8 52.28,461.59 52.27,462.26 52.26,462.82 52.27,463.3 52.28,463.72 52.3,464.1 52.34,464.42 52.39,464.67 52.45,464.86 52.51,465 52.56,465.11 52.6,465.2"/><clipPath id="cD0"><use href="#vD0"/></clipPath></defs>
<use href="#vD0" fill="#8080ff"/>
<line x1="39.4" y1="395.7" x2="66.8" y2="395.7" stroke="#000" stroke-width="2" clip-path="url(#cD0)"/>
<line x1="42.81" y1="412.5" x2="64.39" y2="412.5" stroke="#2020ff" stroke-width="1.2" stroke-dasharray="4 3" clip-path="url(#cD0)"/>
<line x1="41.4" y1="360.3" x2="65.8" y2="360.3" stroke="#2020ff" stroke-width="1.2" stroke-dasharray="4 3" clip-path="url(#cD0)"/>
<defs><polygon id="vD1" points="88.8,450.6 88.83,450.47 88.89,450.31 88.94,450.11 89,449.85 89.06,449.52 89.1,449.1 89.13,448.62 89.16,448.1 89.18,447.5 89.19,446.8 89.2,445.98 89.2,445 89.19,443.79 89.17,442.35 89.14,440.78 89.11,439.19 89.1,437.66 89.1,436.3 89.11,435.1 89.13,433.98 89.15,432.93 89.2,431.93 89.28,430.99 89.4,430.1 89.56,429.27 89.74,428.53 89.95,427.84 90.21,427.17 90.52,426.5 90.9,425.8 91.36,425.07 91.9,424.34 92.49,423.61 93.12,422.87 93.76,422.13 94.4,421.4 95.07,420.67 95.8,419.94 96.54,419.21 97.26,418.48 97.89,417.74 98.4,417 98.8,416.25 99.12,415.49 99.36,414.73 99.53,413.96 99.61,413.18 99.6,412.4 99.49,411.61 99.27,410.81 98.96,410 98.6,409.19 98.2,408.39 97.8,407.6 97.34,406.82 96.8,406.04 96.23,405.26 95.67,404.5 95.18,403.74 94.8,403 94.55,402.28 94.4,401.58 94.31,400.89 94.26,400.2 94.2,399.51 94.1,398.8 93.97,398.08 93.84,397.35 93.7,396.61 93.56,395.87 93.43,395.14 93.3,394.4 93.18,393.67 93.07,392.93 92.96,392.19 92.84,391.46 92.73,390.73 92.6,390 92.46,389.28 92.32,388.56 92.17,387.85 92.01,387.14 91.86,386.42 91.7,385.7 91.54,384.97 91.37,384.24 91.2,383.51 91.03,382.77 90.86,382.03 90.7,381.3 90.54,380.55 90.37,379.79 90.21,379.02 90.05,378.27 89.91,377.56 89.8,376.9 89.69,376.34 89.58,375.87 89.49,375.43 89.43,374.98 89.43,374.45 89.5,373.8 89.66,372.98 89.9,372.04 90.19,371.03 90.52,369.99 90.86,369 91.2,368.1 91.55,367.29 91.92,366.53 92.31,365.81 92.7,365.12 93.07,364.45 93.4,363.8 93.71,363.13 94.01,362.44 94.29,361.78 94.54,361.18 94.74,360.67 94.9,360.3 81.9,360.3 82.06,360.67 82.26,361.18 82.51,361.78 82.79,362.44 83.09,363.13 83.4,363.8 83.73,364.45 84.1,365.12 84.49,365.81 84.88,366.53 85.25,367.29 85.6,368.1 85.94,369 86.28,369.99 86.61,371.03 86.9,372.04 87.14,372.98 87.3,373.8 87.37,374.45 87.37,374.98 87.31,375.43 87.22,375.87 87.11,376.34 87,376.9 86.89,377.56 86.75,378.27 86.59,379.02 86.43,379.79 86.26,380.55 86.1,381.3 85.94,382.03 85.77,382.77 85.6,383.51 85.43,384.24 85.26,384.97 85.1,385.7 84.94,386.42 84.79,387.14 84.63,387.85 84.48,388.56 84.34,389.28 84.2,390 84.07,390.73 83.96,391.46 83.84,392.19 83.73,392.93 83.62,393.67 83.5,394.4 83.37,395.14 83.24,395.87 83.1,396.61 82.96,397.35 82.83,398.08 82.7,398.8 82.6,399.51 82.54,400.2 82.49,400.89 82.4,401.58 82.25,402.28 82,403 81.62,403.74 81.13,404.5 80.57,405.26 80,406.04 79.46,406.82 79,407.6 78.6,408.39 78.2,409.19 77.84,410 77.53,410.81 77.31,411.61 77.2,412.4 77.19,413.18 77.27,413.96 77.44,414.73 77.68,415.49 78,416.25 78.4,417 78.91,417.74 79.54,418.48 80.26,419.21 81,419.94 81.73,420.67 82.4,421.4 83.04,422.13 83.68,422.87 84.31,423.61 84.9,424.34 85.44,425.07 85.9,425.8 86.28,426.5 86.59,427.17 86.85,427.84 87.06,428.53 87.24,429.27 87.4,430.1 87.52,430.99 87.6,431.93 87.65,432.93 87.67,433.98 87.69,435.1 87.7,436.3 87.7,437.66 87.69,439.19 87.66,440.78 87.63,442.35 87.61,443.79 87.6,445 87.6,445.98 87.61,446.8 87.62,447.5 87.64,448.1 87.67,448.62 87.7,449.1 87.74,449.52 87.8,449.85 87.86,450.11 87.91,450.31 87.97,450.47 88,450.6"/><clipPath id="cD1"><use href="#vD1"/></clipPath></defs>
<use href="#vD1" fill="#ff8080"/>
<line x1="75.19" y1="403" x2="101.61" y2="403" stroke="#000" stroke-width="2" clip-path="url(#cD1)"/>
<line x1="77.2" y1="412.5" x2="100.6" y2="412.5" stroke="#ff2020" stroke-width="1.2" stroke-dasharray="4 3" clip-path="url(#cD1)"/>
<line x1="87.3" y1="373.8" x2="90.5" y2="373.8" stroke="#ff2020" stroke-width="1.2" stroke-dasharray="4 3" clip-path="url(#cD1)"/>
<line x1="81.9" y1="360.3" x2="95.9" y2="360.3" stroke="#ff2020" stroke-width="1.2" stroke-dasharray="4 3" clip-path="url(#cD1)"/>
<defs><polygon id="vD2" points="124.2,460.6 124.25,460.59 124.33,460.62 124.42,460.63 124.5,460.56 124.57,460.34 124.6,459.9 124.59,459.21 124.54,458.3 124.48,457.24 124.41,456.1 124.35,454.93 124.3,453.8 124.27,452.68 124.24,451.5 124.21,450.3 124.2,449.1 124.19,447.93 124.2,446.8 124.23,445.76 124.28,444.8 124.34,443.86 124.41,442.9 124.46,441.86 124.5,440.7 124.51,439.36 124.51,437.87 124.5,436.3 124.49,434.73 124.49,433.24 124.5,431.9 124.52,430.71 124.54,429.6 124.57,428.58 124.61,427.61 124.69,426.69 124.8,425.8 124.95,424.97 125.14,424.21 125.36,423.49 125.59,422.8 125.84,422.11 126.1,421.4 126.38,420.66 126.7,419.93 127.04,419.19 127.36,418.45 127.66,417.72 127.9,417 128.1,416.3 128.27,415.62 128.41,414.95 128.51,414.27 128.58,413.56 128.6,412.8 128.56,411.97 128.47,411.08 128.34,410.16 128.19,409.24 128.03,408.38 127.9,407.6 127.78,406.94 127.67,406.37 127.55,405.86 127.43,405.34 127.32,404.77 127.2,404.1 127.07,403.32 126.91,402.47 126.76,401.56 126.63,400.63 126.54,399.7 126.5,398.8 126.53,397.92 126.61,397.03 126.74,396.14 126.89,395.26 127.04,394.38 127.2,393.5 127.37,392.63 127.57,391.76 127.78,390.9 127.98,390.04 128.16,389.17 128.3,388.3 128.41,387.41 128.5,386.5 128.57,385.59 128.62,384.69 128.63,383.82 128.6,383 128.51,382.26 128.35,381.6 128.16,380.96 127.97,380.31 127.81,379.61 127.7,378.8 127.64,377.85 127.6,376.79 127.58,375.66 127.6,374.54 127.67,373.46 127.8,372.5 127.98,371.66 128.21,370.89 128.49,370.17 128.81,369.49 129.18,368.81 129.6,368.1 130.1,367.37 130.69,366.63 131.32,365.89 131.96,365.17 132.57,364.47 133.1,363.8 133.58,363.13 134.04,362.44 134.47,361.78 134.85,361.18 135.16,360.67 135.4,360.3 112,360.3 112.24,360.67 112.55,361.18 112.93,361.78 113.36,362.44 113.82,363.13 114.3,363.8 114.83,364.47 115.44,365.17 116.08,365.89 116.71,366.63 117.3,367.37 117.8,368.1 118.22,368.81 118.59,369.49 118.91,370.17 119.19,370.89 119.42,371.66 119.6,372.5 119.73,373.46 119.8,374.54 119.82,375.66 119.8,376.79 119.76,377.85 119.7,378.8 119.59,379.61 119.43,380.31 119.24,380.96 119.05,381.6 118.89,382.26 118.8,383 118.77,383.82 118.78,384.69 118.83,385.59 118.9,386.5 118.99,387.41 119.1,388.3 119.24,389.17 119.42,390.04 119.62,390.9 119.83,391.76 120.03,392.63 120.2,393.5 120.36,394.38 120.51,395.26 120.66,396.14 120.79,397.03 120.87,397.92 120.9,398.8 120.86,399.7 120.77,400.63 120.64,401.56 120.49,402.47 120.33,403.32 120.2,404.1 120.08,404.77 119.97,405.34 119.85,405.86 119.73,406.37 119.62,406.94 119.5,407.6 119.37,408.38 119.21,409.24 119.06,410.16 118.93,411.08 118.84,411.97 118.8,412.8 118.82,413.56 118.89,414.27 118.99,414.95 119.13,415.62 119.3,416.3 119.5,417 119.74,417.72 120.04,418.45 120.36,419.19 120.7,419.93 121.02,420.66 121.3,421.4 121.56,422.11 121.81,422.8 122.04,423.49 122.26,424.21 122.45,424.97 122.6,425.8 122.71,426.69 122.79,427.61 122.83,428.58 122.86,429.6 122.88,430.71 122.9,431.9 122.91,433.24 122.91,434.73 122.9,436.3 122.89,437.87 122.89,439.36 122.9,440.7 122.94,441.86 122.99,442.9 123.06,443.86 123.12,444.8 123.17,445.76 123.2,446.8 123.21,447.93 123.2,449.1 123.19,450.3 123.16,451.5 123.13,452.68 123.1,453.8 123.05,454.93 122.99,456.1 122.92,457.24 122.86,458.3 122.81,459.21 122.8,459.9 122.83,460.34 122.9,460.56 122.98,460.63 123.07,460.62 123.15,460.59 123.2,460.6"/><clipPath id="cD2"><use href="#vD2"/></clipPath></defs>
<use href="#vD2" fill="#8080ff"/>
<line x1="110" y1="378.8" x2="137.4" y2="378.8" stroke="#000" stroke-width="2" clip-path="url(#cD2)"/>
<line x1="119.5" y1="407.6" x2="128.9" y2="407.6" stroke="#2020ff" stroke-width="1.2" stroke-dasharray="4 3" clip-path="url(#cD2)"/>
<line x1="112" y1="360.3" x2="136.4" y2="360.3" stroke="#2020ff" stroke-width="1.2" stroke-dasharray="4 3" clip-path="url(#cD2)"/>
<defs><polygon id="vD3" points="161,431.5 161.02,431.28 161.04,430.98 161.06,430.62 161.11,430.21 161.18,429.77 161.3,429.3 161.45,428.8 161.63,428.26 161.84,427.69 162.08,427.08 162.37,426.45 162.7,425.8 163.09,425.12 163.52,424.4 164,423.66 164.51,422.9 165.05,422.14 165.6,421.4 166.21,420.67 166.91,419.94 167.62,419.21 168.31,418.48 168.92,417.74 169.4,417 169.74,416.27 170,415.56 170.18,414.84 170.28,414.09 170.32,413.28 170.3,412.4 170.2,411.4 170.02,410.3 169.77,409.14 169.48,407.98 169.18,406.85 168.9,405.8 168.63,404.84 168.34,403.93 168.05,403.06 167.74,402.21 167.43,401.36 167.1,400.5 166.75,399.62 166.37,398.73 165.97,397.84 165.59,396.97 165.22,396.12 164.9,395.3 164.6,394.51 164.31,393.74 164.05,392.99 163.82,392.27 163.63,391.57 163.5,390.9 163.43,390.28 163.41,389.7 163.44,389.15 163.5,388.6 163.59,388.03 163.7,387.4 163.87,386.73 164.1,386.03 164.37,385.31 164.62,384.56 164.81,383.79 164.9,383 164.87,382.17 164.76,381.3 164.59,380.4 164.39,379.5 164.19,378.63 164,377.8 163.79,377.03 163.51,376.31 163.24,375.61 163.01,374.9 162.88,374.18 162.9,373.4 163.1,372.56 163.43,371.66 163.86,370.74 164.36,369.83 164.88,368.94 165.4,368.1 165.95,367.32 166.56,366.56 167.2,365.84 167.83,365.14 168.41,364.46 168.9,363.8 169.31,363.13 169.66,362.44 169.97,361.78 170.23,361.18 170.44,360.67 170.6,360.3 147.4,360.3 147.56,360.67 147.77,361.18 148.03,361.78 148.34,362.44 148.69,363.13 149.1,363.8 149.59,364.46 150.17,365.14 150.8,365.84 151.44,366.56 152.05,367.32 152.6,368.1 153.12,368.94 153.64,369.83 154.14,370.74 154.57,371.66 154.9,372.56 155.1,373.4 155.12,374.18 154.99,374.9 154.76,375.61 154.49,376.31 154.21,377.03 154,377.8 153.81,378.63 153.61,379.5 153.41,380.4 153.24,381.3 153.13,382.17 153.1,383 153.19,383.79 153.38,384.56 153.63,385.31 153.9,386.03 154.13,386.73 154.3,387.4 154.41,388.03 154.5,388.6 154.56,389.15 154.59,389.7 154.57,390.28 154.5,390.9 154.37,391.57 154.18,392.27 153.95,392.99 153.69,393.74 153.4,394.51 153.1,395.3 152.78,396.12 152.41,396.97 152.03,397.84 151.63,398.73 151.25,399.62 150.9,400.5 150.57,401.36 150.26,402.21 149.95,403.06 149.66,403.93 149.37,404.84 149.1,405.8 148.82,406.85 148.52,407.98 148.23,409.14 147.98,410.3 147.8,411.4 147.7,412.4 147.68,413.28 147.72,414.09 147.82,414.84 148,415.56 148.26,416.27 148.6,417 149.08,417.74 149.69,418.48 150.38,419.21 151.09,419.94 151.79,420.67 152.4,421.4 152.95,422.14 153.49,422.9 154,423.66 154.48,424.4 154.91,425.12 155.3,425.8 155.63,426.45 155.92,427.08 156.16,427.69 156.37,428.26 156.55,428.8 156.7,429.3 156.82,429.77 156.89,430.21 156.94,430.62 156.96,430.98 156.98,431.28 157,431.5"/><clipPath id="cD3"><use href="#vD3"/></clipPath></defs>
<use href="#vD3" fill="#ff8080"/>
<line x1="145.4" y1="390.9" x2="172.6" y2="390.9" stroke="#000" stroke-width="2" clip-path="url(#cD3)"/>
<line x1="147.7" y1="412.5" x2="171.3" y2="412.5" stroke="#ff2020" stroke-width="1.2" stroke-dasharray="4 3" clip-path="url(#cD3)"/>
<line x1="147.4" y1="360.3" x2="171.6" y2="360.3" stroke="#ff2020" stroke-width="1.2" stroke-dasharray="4 3" clip-path="url(#cD3)"/>
<path d="M29.35,320.75V474.8M23,474.8H183.8" stroke="#000" stroke-width="1.5" fill="none"/>
<line x1="23.2" y1="474.8" x2="29.35" y2="474.8" stroke="#000" stroke-width="1.5"/>
<text x="21.2" y="479.2" text-anchor="end" class="t">0</text>
<line x1="23.2" y1="436.48" x2="29.35" y2="436.48" stroke="#000" stroke-width="1.5"/>
<text x="21.2" y="440.88" text-anchor="end" class="t">200</text>
<line x1="23.2" y1="398.15" x2="29.35" y2="398.15" stroke="#000" stroke-width="1.5"/>
<text x="21.2" y="402.55" text-anchor="end" class="t">400</text>
<line x1="23.2" y1="359.83" x2="29.35" y2="359.83" stroke="#000" stroke-width="1.5"/>
<text x="21.2" y="364.23" text-anchor="end" class="t">600</text>
<line x1="23.2" y1="321.5" x2="29.35" y2="321.5" stroke="#000" stroke-width="1.5"/>
<text x="21.2" y="325.9" text-anchor="end" class="t">800</text>
<line x1="53.1" y1="474.8" x2="53.1" y2="480.8" stroke="#000" stroke-width="1.5"/>
<text x="56.7" y="492.7" text-anchor="end" class="x" transform="rotate(-45 56.7 492.7)">BCT (pre)</text>
<line x1="88.4" y1="474.8" x2="88.4" y2="480.8" stroke="#000" stroke-width="1.5"/>
<text x="92" y="492.7" text-anchor="end" class="x" transform="rotate(-45 92 492.7)">Usual care (pre)</text>
<line x1="123.7" y1="474.8" x2="123.7" y2="480.8" stroke="#000" stroke-width="1.5"/>
<text x="127.3" y="492.7" text-anchor="end" class="x" transform="rotate(-45 127.3 492.7)">BCT (post)</text>
<line x1="159" y1="474.8" x2="159" y2="480.8" stroke="#000" stroke-width="1.5"/>
<text x="162.6" y="492.7" text-anchor="end" class="x" transform="rotate(-45 162.6 492.7)">Usual care (post)</text>
<text x="12.4" y="302.7" class="L">D</text>
<defs><polygon id="vE0" points="303.35,444.1 303.39,443.85 303.45,443.57 303.51,443.2 303.58,442.7 303.63,442.02 303.65,441.1 303.64,439.85 303.6,438.3 303.55,436.56 303.5,434.77 303.46,433.04 303.45,431.5 303.47,430.13 303.5,428.83 303.55,427.6 303.61,426.43 303.68,425.33 303.75,424.3 303.82,423.39 303.89,422.61 303.97,421.9 304.06,421.19 304.19,420.41 304.35,419.5 304.6,418.45 304.94,417.32 305.3,416.12 305.63,414.87 305.87,413.59 305.95,412.3 305.83,410.95 305.56,409.53 305.19,408.08 304.79,406.64 304.43,405.26 304.15,404 303.96,402.84 303.81,401.74 303.68,400.71 303.58,399.74 303.51,398.83 303.45,398 303.41,397.29 303.38,396.71 303.38,396.2 303.41,395.69 303.46,395.11 303.55,394.4 303.67,393.54 303.83,392.58 304.02,391.55 304.24,390.49 304.48,389.43 304.75,388.4 305.1,387.4 305.53,386.4 305.99,385.4 306.42,384.4 306.76,383.4 306.95,382.4 306.98,381.39 306.88,380.36 306.7,379.32 306.46,378.31 306.2,377.33 305.95,376.4 305.68,375.53 305.35,374.71 305,373.93 304.66,373.16 304.37,372.39 304.15,371.6 304.01,370.8 303.91,370 303.86,369.2 303.85,368.4 303.88,367.6 303.95,366.8 304.04,366 304.14,365.2 304.29,364.4 304.5,363.6 304.81,362.8 305.25,362 305.85,361.2 306.6,360.4 307.45,359.61 308.34,358.81 309.23,358.01 310.05,357.2 310.87,356.33 311.74,355.39 312.6,354.45 313.39,353.57 314.06,352.83 314.55,352.3 291.35,352.3 291.84,352.83 292.51,353.57 293.3,354.45 294.16,355.39 295.03,356.33 295.85,357.2 296.67,358.01 297.56,358.81 298.45,359.61 299.3,360.4 300.05,361.2 300.65,362 301.09,362.8 301.4,363.6 301.61,364.4 301.76,365.2 301.86,366 301.95,366.8 302.02,367.6 302.05,368.4 302.04,369.2 301.99,370 301.89,370.8 301.75,371.6 301.53,372.39 301.24,373.16 300.9,373.93 300.55,374.71 300.22,375.53 299.95,376.4 299.7,377.33 299.44,378.31 299.2,379.32 299.02,380.36 298.92,381.39 298.95,382.4 299.14,383.4 299.48,384.4 299.91,385.4 300.37,386.4 300.8,387.4 301.15,388.4 301.42,389.43 301.66,390.49 301.88,391.55 302.07,392.58 302.23,393.54 302.35,394.4 302.44,395.11 302.49,395.69 302.52,396.2 302.52,396.71 302.49,397.29 302.45,398 302.39,398.83 302.32,399.74 302.22,400.71 302.09,401.74 301.94,402.84 301.75,404 301.47,405.26 301.11,406.64 300.71,408.08 300.34,409.53 300.07,410.95 299.95,412.3 300.03,413.59 300.27,414.87 300.6,416.12 300.96,417.32 301.3,418.45 301.55,419.5 301.71,420.41 301.84,421.19 301.93,421.9 302.01,422.61 302.08,423.39 302.15,424.3 302.22,425.33 302.29,426.43 302.35,427.6 302.4,428.83 302.43,430.13 302.45,431.5 302.44,433.04 302.4,434.77 302.35,436.56 302.3,438.3 302.26,439.85 302.25,441.1 302.27,442.02 302.32,442.7 302.39,443.2 302.45,443.57 302.51,443.85 302.55,444.1"/><clipPath id="cE0"><use href="#vE0"/></clipPath></defs>
<use href="#vE0" fill="#8080ff"/>
<line x1="289.35" y1="352.3" x2="316.55" y2="352.3" stroke="#000" stroke-width="2" clip-path="url(#cE0)"/>
<line x1="298.95" y1="382.4" x2="307.95" y2="382.4" stroke="#2020ff" stroke-width="1.2" stroke-dasharray="4 3" clip-path="url(#cE0)"/>
<line x1="291.35" y1="352.3" x2="315.55" y2="352.3" stroke="#10108a" stroke-width="1.2" stroke-dasharray="4 3" clip-path="url(#cE0)"/>
<defs><polygon id="vE1" points="339.85,443.8 339.86,443.53 339.88,443.18 339.89,442.75 339.9,442.24 339.89,441.66 339.85,441 339.77,440.26 339.66,439.44 339.52,438.54 339.39,437.57 339.26,436.52 339.15,435.4 339.05,434.16 338.95,432.78 338.85,431.33 338.78,429.86 338.74,428.43 338.75,427.1 338.82,425.87 338.92,424.7 339.07,423.56 339.24,422.45 339.44,421.33 339.65,420.2 339.91,419.03 340.24,417.85 340.59,416.67 340.92,415.5 341.18,414.37 341.35,413.3 341.4,412.31 341.38,411.39 341.29,410.5 341.16,409.61 341.01,408.69 340.85,407.7 340.66,406.61 340.41,405.45 340.14,404.25 339.87,403.05 339.63,401.89 339.45,400.8 339.29,399.79 339.12,398.83 338.99,397.91 338.92,397.01 338.96,396.11 339.15,395.2 339.52,394.29 340.05,393.41 340.68,392.54 341.38,391.64 342.08,390.7 342.75,389.7 343.48,388.64 344.32,387.53 345.18,386.38 345.94,385.19 346.5,383.96 346.75,382.7 346.63,381.36 346.22,379.93 345.61,378.46 344.89,377.01 344.14,375.64 343.45,374.4 342.75,373.29 341.95,372.26 341.13,371.31 340.36,370.43 339.71,369.63 339.25,368.9 338.99,368.31 338.87,367.87 338.87,367.51 338.98,367.14 339.17,366.7 339.45,366.1 339.85,365.29 340.39,364.33 341.02,363.29 341.69,362.25 342.35,361.29 342.95,360.5 343.48,359.93 343.99,359.52 344.48,359.2 344.98,358.88 345.5,358.47 346.05,357.9 346.69,357.08 347.41,356.05 348.14,354.94 348.84,353.86 349.43,352.94 349.85,352.3 326.65,352.3 327.07,352.94 327.66,353.86 328.36,354.94 329.09,356.05 329.81,357.08 330.45,357.9 331,358.47 331.52,358.88 332.02,359.2 332.51,359.52 333.02,359.93 333.55,360.5 334.15,361.29 334.81,362.25 335.48,363.29 336.11,364.33 336.65,365.29 337.05,366.1 337.33,366.7 337.52,367.14 337.63,367.51 337.63,367.87 337.51,368.31 337.25,368.9 336.79,369.63 336.14,370.43 335.37,371.31 334.55,372.26 333.75,373.29 333.05,374.4 332.36,375.64 331.61,377.01 330.89,378.46 330.28,379.93 329.87,381.36 329.75,382.7 330,383.96 330.56,385.19 331.32,386.38 332.18,387.53 333.02,388.64 333.75,389.7 334.42,390.7 335.12,391.64 335.82,392.54 336.45,393.41 336.98,394.29 337.35,395.2 337.54,396.11 337.58,397.01 337.51,397.91 337.38,398.83 337.21,399.79 337.05,400.8 336.87,401.89 336.63,403.05 336.36,404.25 336.09,405.45 335.84,406.61 335.65,407.7 335.49,408.69 335.34,409.61 335.21,410.5 335.12,411.39 335.1,412.31 335.15,413.3 335.32,414.37 335.58,415.5 335.91,416.67 336.26,417.85 336.59,419.03 336.85,420.2 337.06,421.33 337.26,422.45 337.43,423.56 337.58,424.7 337.68,425.87 337.75,427.1 337.76,428.43 337.72,429.86 337.65,431.33 337.55,432.78 337.45,434.16 337.35,435.4 337.24,436.52 337.11,437.57 336.98,438.54 336.84,439.44 336.73,440.26 336.65,441 336.61,441.66 336.6,442.24 336.61,442.75 336.62,443.18 336.64,443.53 336.65,443.8"/><clipPath id="cE1"><use href="#vE1"/></clipPath></defs>
<use href="#vE1" fill="#ff8080"/>
<line x1="324.65" y1="382.7" x2="351.85" y2="382.7" stroke="#000" stroke-width="2" clip-path="url(#cE1)"/>
<line x1="329.75" y1="382.7" x2="347.75" y2="382.7" stroke="#8a1010" stroke-width="1.2" stroke-dasharray="4 3" clip-path="url(#cE1)"/>
<line x1="326.65" y1="352.3" x2="350.85" y2="352.3" stroke="#ff2020" stroke-width="1.2" stroke-dasharray="4 3" clip-path="url(#cE1)"/>
<defs><polygon id="vE2" points="373.95,443.8 373.97,443.88 373.99,444.3 374.03,444.64 374.06,444.49 374.08,443.45 374.1,441.1 374.11,436.86 374.1,430.93 374.09,424.11 374.09,417.18 374.09,410.91 374.1,406.1 374.12,402.83 374.15,400.48 374.18,398.81 374.22,397.54 374.28,396.43 374.35,395.2 374.4,393.99 374.43,393.02 374.47,392.21 374.56,391.44 374.74,390.64 375.05,389.7 375.59,388.64 376.35,387.53 377.21,386.38 378.01,385.19 378.64,383.96 378.95,382.7 378.88,381.36 378.54,379.93 378.01,378.46 377.4,377.01 376.81,375.64 376.35,374.4 375.98,373.29 375.62,372.26 375.29,371.31 374.99,370.43 374.74,369.63 374.55,368.9 374.41,368.31 374.31,367.87 374.26,367.51 374.27,367.14 374.36,366.7 374.55,366.1 374.85,365.29 375.26,364.33 375.75,363.29 376.29,362.25 376.87,361.29 377.45,360.5 378.06,359.93 378.71,359.52 379.39,359.2 380.09,358.88 380.78,358.47 381.45,357.9 382.14,357.08 382.87,356.05 383.6,354.94 384.27,353.86 384.84,352.94 385.25,352.3 361.85,352.3 362.26,352.94 362.83,353.86 363.5,354.94 364.23,356.05 364.96,357.08 365.65,357.9 366.32,358.47 367.01,358.88 367.71,359.2 368.39,359.52 369.04,359.93 369.65,360.5 370.23,361.29 370.81,362.25 371.35,363.29 371.84,364.33 372.25,365.29 372.55,366.1 372.74,366.7 372.83,367.14 372.84,367.51 372.79,367.87 372.69,368.31 372.55,368.9 372.36,369.63 372.11,370.43 371.81,371.31 371.48,372.26 371.12,373.29 370.75,374.4 370.29,375.64 369.7,377.01 369.09,378.46 368.56,379.93 368.22,381.36 368.15,382.7 368.46,383.96 369.09,385.19 369.89,386.38 370.75,387.53 371.51,388.64 372.05,389.7 372.36,390.64 372.54,391.44 372.63,392.21 372.67,393.02 372.7,393.99 372.75,395.2 372.82,396.43 372.88,397.54 372.92,398.81 372.95,400.48 372.98,402.83 373,406.1 373.01,410.91 373.01,417.18 373.01,424.11 373,430.93 372.99,436.86 373,441.1 373.02,443.45 373.04,444.49 373.07,444.64 373.11,444.3 373.13,443.88 373.15,443.8"/><clipPath id="cE2"><use href="#vE2"/></clipPath></defs>
<use href="#vE2" fill="#8080ff"/>
<line x1="359.85" y1="352.3" x2="387.25" y2="352.3" stroke="#000" stroke-width="2" clip-path="url(#cE2)"/>
<line x1="368.15" y1="382.7" x2="379.95" y2="382.7" stroke="#2020ff" stroke-width="1.2" stroke-dasharray="4 3" clip-path="url(#cE2)"/>
<line x1="361.85" y1="352.3" x2="386.25" y2="352.3" stroke="#10108a" stroke-width="1.2" stroke-dasharray="4 3" clip-path="url(#cE2)"/>
<defs><polygon id="vE3" points="409.35,443.8 409.37,443.88 409.41,444.3 409.45,444.64 409.49,444.49 409.53,443.45 409.55,441.1 409.56,436.86 409.55,430.93 409.53,424.11 409.52,417.18 409.52,410.91 409.55,406.1 409.56,402.83 409.55,400.48 409.55,398.81 409.61,397.54 409.76,396.43 410.05,395.2 410.51,393.99 411.11,393.02 411.81,392.21 412.56,391.44 413.32,390.64 414.05,389.7 414.85,388.62 415.79,387.47 416.73,386.29 417.57,385.08 418.18,383.88 418.45,382.7 418.29,381.51 417.78,380.29 417.05,379.08 416.22,377.9 415.41,376.79 414.75,375.8 414.22,374.94 413.72,374.2 413.25,373.52 412.8,372.89 412.37,372.26 411.95,371.6 411.54,370.89 411.12,370.15 410.73,369.42 410.37,368.71 410.07,368.07 409.85,367.5 409.69,367.07 409.56,366.76 409.49,366.5 409.5,366.23 409.61,365.89 409.85,365.4 410.26,364.72 410.83,363.89 411.51,362.98 412.22,362.07 412.93,361.22 413.55,360.5 414.09,359.97 414.6,359.57 415.09,359.24 415.58,358.9 416.09,358.48 416.65,357.9 417.3,357.08 418.04,356.05 418.79,354.94 419.51,353.86 420.12,352.94 420.55,352.3 397.15,352.3 397.58,352.94 398.19,353.86 398.91,354.94 399.66,356.05 400.4,357.08 401.05,357.9 401.61,358.48 402.12,358.9 402.61,359.24 403.1,359.57 403.61,359.97 404.15,360.5 404.77,361.22 405.48,362.07 406.19,362.98 406.87,363.89 407.44,364.72 407.85,365.4 408.09,365.89 408.2,366.23 408.21,366.5 408.14,366.76 408.01,367.07 407.85,367.5 407.63,368.07 407.33,368.71 406.98,369.42 406.58,370.15 406.16,370.89 405.75,371.6 405.33,372.26 404.9,372.89 404.45,373.52 403.98,374.2 403.48,374.94 402.95,375.8 402.29,376.79 401.48,377.9 400.65,379.08 399.92,380.29 399.41,381.51 399.25,382.7 399.52,383.88 400.13,385.08 400.97,386.29 401.91,387.47 402.85,388.62 403.65,389.7 404.38,390.64 405.14,391.44 405.89,392.21 406.59,393.02 407.19,393.99 407.65,395.2 407.94,396.43 408.09,397.54 408.15,398.81 408.15,400.48 408.14,402.83 408.15,406.1 408.18,410.91 408.18,417.18 408.17,424.11 408.15,430.93 408.14,436.86 408.15,441.1 408.17,443.45 408.21,444.49 408.25,444.64 408.29,444.3 408.33,443.88 408.35,443.8"/><clipPath id="cE3"><use href="#vE3"/></clipPath></defs>
<use href="#vE3" fill="#ff8080"/>
<line x1="395.15" y1="367.5" x2="422.55" y2="367.5" stroke="#000" stroke-width="2" clip-path="url(#cE3)"/>
<line x1="399.25" y1="382.7" x2="419.45" y2="382.7" stroke="#ff2020" stroke-width="1.2" stroke-dasharray="4 3" clip-path="url(#cE3)"/>
<line x1="397.15" y1="352.3" x2="421.55" y2="352.3" stroke="#ff2020" stroke-width="1.2" stroke-dasharray="4 3" clip-path="url(#cE3)"/>
<path d="M279.2,320.75V474.8M272.85,474.8H433.65" stroke="#000" stroke-width="1.5" fill="none"/>
<line x1="273.05" y1="474.8" x2="279.2" y2="474.8" stroke="#000" stroke-width="1.5"/>
<text x="271.05" y="479.2" text-anchor="end" class="t">0</text>
<line x1="273.05" y1="444.14" x2="279.2" y2="444.14" stroke="#000" stroke-width="1.5"/>
<text x="271.05" y="448.54" text-anchor="end" class="t">50</text>
<line x1="273.05" y1="413.48" x2="279.2" y2="413.48" stroke="#000" stroke-width="1.5"/>
<text x="271.05" y="417.88" text-anchor="end" class="t">100</text>
<line x1="273.05" y1="382.82" x2="279.2" y2="382.82" stroke="#000" stroke-width="1.5"/>
<text x="271.05" y="387.22" text-anchor="end" class="t">150</text>
<line x1="273.05" y1="352.16" x2="279.2" y2="352.16" stroke="#000" stroke-width="1.5"/>
<text x="271.05" y="356.56" text-anchor="end" class="t">200</text>
<line x1="273.05" y1="321.5" x2="279.2" y2="321.5" stroke="#000" stroke-width="1.5"/>
<text x="271.05" y="325.9" text-anchor="end" class="t">250</text>
<line x1="302.95" y1="474.8" x2="302.95" y2="480.8" stroke="#000" stroke-width="1.5"/>
<text x="306.55" y="492.7" text-anchor="end" class="x" transform="rotate(-45 306.55 492.7)">BCT (pre)</text>
<line x1="338.25" y1="474.8" x2="338.25" y2="480.8" stroke="#000" stroke-width="1.5"/>
<text x="341.85" y="492.7" text-anchor="end" class="x" transform="rotate(-45 341.85 492.7)">Usual care (pre)</text>
<line x1="373.55" y1="474.8" x2="373.55" y2="480.8" stroke="#000" stroke-width="1.5"/>
<text x="377.15" y="492.7" text-anchor="end" class="x" transform="rotate(-45 377.15 492.7)">BCT (post)</text>
<line x1="408.85" y1="474.8" x2="408.85" y2="480.8" stroke="#000" stroke-width="1.5"/>
<text x="412.45" y="492.7" text-anchor="end" class="x" transform="rotate(-45 412.45 492.7)">Usual care (post)</text>
<text x="265.95" y="303.4" class="L">E</text>
<defs><polygon id="vF0" points="557.35,474.8 557.35,474.74 557.36,474.69 557.37,474.62 557.36,474.49 557.33,474.26 557.25,473.9 557.13,473.39 556.96,472.76 556.77,472.02 556.57,471.23 556.36,470.41 556.15,469.6 555.94,468.77 555.72,467.9 555.5,467.01 555.28,466.1 555.06,465.19 554.85,464.3 554.64,463.42 554.43,462.53 554.23,461.64 554.04,460.77 553.87,459.92 553.75,459.1 553.65,458.33 553.57,457.61 553.52,456.91 553.51,456.2 553.55,455.48 553.65,454.7 553.84,453.87 554.11,453 554.43,452.1 554.78,451.19 555.13,450.29 555.45,449.4 555.79,448.56 556.18,447.76 556.57,446.96 556.92,446.13 557.16,445.22 557.25,444.2 557.15,443 556.91,441.64 556.56,440.2 556.16,438.77 555.77,437.45 555.45,436.3 555.17,435.36 554.88,434.57 554.61,433.88 554.35,433.24 554.13,432.59 553.95,431.9 553.8,431.17 553.65,430.43 553.54,429.7 553.48,428.97 553.51,428.23 553.65,427.5 553.91,426.77 554.26,426.03 554.71,425.29 555.21,424.56 555.77,423.83 556.35,423.1 557,422.39 557.74,421.7 558.52,421.01 559.31,420.31 560.07,419.58 560.75,418.8 561.4,417.93 562.05,416.96 562.67,415.96 563.22,415 563.66,414.12 563.95,413.4 564.08,412.88 564.07,412.51 563.96,412.23 563.76,411.98 563.52,411.69 563.25,411.3 562.95,410.8 562.58,410.24 562.16,409.64 561.7,409.02 561.23,408.4 560.75,407.8 560.25,407.22 559.73,406.63 559.18,406.05 558.63,405.47 558.08,404.88 557.55,404.3 557.02,403.73 556.47,403.17 555.92,402.61 555.41,402.03 554.94,401.44 554.55,400.8 554.24,400.12 553.99,399.4 553.79,398.66 553.63,397.9 553.5,397.14 553.4,396.4 553.32,395.67 553.28,394.93 553.27,394.19 553.29,393.46 553.34,392.73 553.4,392 553.49,391.29 553.61,390.6 553.76,389.91 553.92,389.2 554.09,388.47 554.25,387.7 554.43,386.88 554.64,386.04 554.85,385.16 555.04,384.26 555.18,383.34 555.25,382.4 555.23,381.43 555.15,380.43 555.02,379.41 554.86,378.37 554.7,377.33 554.55,376.3 554.41,375.25 554.25,374.17 554.08,373.09 553.92,372.03 553.78,371.02 553.65,370.1 553.54,369.27 553.45,368.53 553.37,367.84 553.3,367.17 553.24,366.5 553.2,365.8 553.17,365.07 553.16,364.34 553.16,363.61 553.16,362.87 553.18,362.13 553.2,361.4 553.22,360.67 553.25,359.94 553.28,359.22 553.32,358.49 553.38,357.75 553.45,357 553.55,356.18 553.68,355.28 553.82,354.38 553.95,353.53 554.07,352.81 554.15,352.3 551.15,352.3 551.23,352.81 551.35,353.53 551.48,354.38 551.62,355.28 551.75,356.18 551.85,357 551.92,357.75 551.98,358.49 552.02,359.22 552.05,359.94 552.08,360.67 552.1,361.4 552.12,362.13 552.14,362.87 552.14,363.61 552.14,364.34 552.13,365.07 552.1,365.8 552.06,366.5 552,367.17 551.93,367.84 551.85,368.53 551.76,369.27 551.65,370.1 551.52,371.02 551.38,372.03 551.22,373.09 551.05,374.17 550.89,375.25 550.75,376.3 550.6,377.33 550.44,378.37 550.28,379.41 550.15,380.43 550.07,381.43 550.05,382.4 550.12,383.34 550.26,384.26 550.45,385.16 550.66,386.04 550.87,386.88 551.05,387.7 551.21,388.47 551.38,389.2 551.54,389.91 551.69,390.6 551.81,391.29 551.9,392 551.96,392.73 552.01,393.46 552.02,394.19 552.02,394.93 551.98,395.67 551.9,396.4 551.8,397.14 551.67,397.9 551.51,398.66 551.31,399.4 551.06,400.12 550.75,400.8 550.36,401.44 549.89,402.03 549.38,402.61 548.83,403.17 548.28,403.73 547.75,404.3 547.22,404.88 546.67,405.47 546.12,406.05 545.57,406.63 545.05,407.22 544.55,407.8 544.07,408.4 543.6,409.02 543.14,409.64 542.72,410.24 542.35,410.8 542.05,411.3 541.78,411.69 541.54,411.98 541.34,412.23 541.23,412.51 541.22,412.88 541.35,413.4 541.64,414.12 542.08,415 542.63,415.96 543.25,416.96 543.9,417.93 544.55,418.8 545.23,419.58 545.99,420.31 546.78,421.01 547.56,421.7 548.3,422.39 548.95,423.1 549.53,423.83 550.09,424.56 550.59,425.29 551.04,426.03 551.39,426.77 551.65,427.5 551.79,428.23 551.82,428.97 551.76,429.7 551.65,430.43 551.5,431.17 551.35,431.9 551.17,432.59 550.95,433.24 550.69,433.88 550.42,434.57 550.13,435.36 549.85,436.3 549.53,437.45 549.14,438.77 548.74,440.2 548.39,441.64 548.15,443 548.05,444.2 548.14,445.22 548.38,446.13 548.73,446.96 549.12,447.76 549.51,448.56 549.85,449.4 550.17,450.29 550.52,451.19 550.87,452.1 551.19,453 551.46,453.87 551.65,454.7 551.75,455.48 551.79,456.2 551.78,456.91 551.73,457.61 551.65,458.33 551.55,459.1 551.43,459.92 551.26,460.77 551.07,461.64 550.87,462.53 550.66,463.42 550.45,464.3 550.24,465.19 550.02,466.1 549.8,467.01 549.58,467.9 549.36,468.77 549.15,469.6 548.94,470.41 548.73,471.23 548.52,472.02 548.34,472.76 548.17,473.39 548.05,473.9 547.97,474.26 547.94,474.49 547.93,474.62 547.94,474.69 547.95,474.74 547.95,474.8"/><clipPath id="cF0"><use href="#vF0"/></clipPath></defs>
<use href="#vF0" fill="#8080ff"/>
<line x1="539.22" y1="413.4" x2="566.08" y2="413.4" stroke="#000" stroke-width="2" clip-path="url(#cF0)"/>
<line x1="541.35" y1="413.4" x2="564.95" y2="413.4" stroke="#10108a" stroke-width="1.2" stroke-dasharray="4 3" clip-path="url(#cF0)"/>
<line x1="548.05" y1="444.2" x2="558.25" y2="444.2" stroke="#2020ff" stroke-width="1.2" stroke-dasharray="4 3" clip-path="url(#cF0)"/>
<line x1="547.97" y1="474.3" x2="558.33" y2="474.3" stroke="#2020ff" stroke-width="1.2" stroke-dasharray="4 3" clip-path="url(#cF0)"/>
<defs><polygon id="vF1" points="590.15,474.8 590.15,474.66 590.15,474.49 590.16,474.28 590.15,474 590.11,473.61 590.05,473.1 589.94,472.42 589.8,471.6 589.63,470.67 589.46,469.69 589.29,468.72 589.15,467.8 589.03,466.94 588.91,466.1 588.79,465.26 588.69,464.4 588.61,463.52 588.55,462.6 588.51,461.62 588.48,460.6 588.48,459.56 588.48,458.5 588.51,457.44 588.55,456.4 588.61,455.38 588.69,454.36 588.78,453.34 588.89,452.33 589.01,451.32 589.15,450.3 589.33,449.28 589.55,448.27 589.79,447.26 590.01,446.24 590.17,445.22 590.25,444.2 590.23,443.17 590.12,442.14 589.97,441.1 589.79,440.06 589.61,439.03 589.45,438 589.31,436.96 589.15,435.9 589,434.84 588.85,433.8 588.73,432.82 588.65,431.9 588.59,431.06 588.53,430.27 588.5,429.54 588.5,428.84 588.57,428.16 588.7,427.5 588.89,426.88 589.11,426.33 589.4,425.8 589.75,425.26 590.2,424.67 590.75,424 591.47,423.23 592.35,422.4 593.33,421.52 594.32,420.61 595.25,419.7 596.05,418.8 596.75,417.87 597.42,416.89 598.03,415.91 598.56,414.96 598.97,414.11 599.25,413.4 599.37,412.88 599.34,412.51 599.2,412.23 598.98,411.98 598.72,411.69 598.45,411.3 598.14,410.8 597.78,410.24 597.36,409.64 596.92,409.02 596.48,408.4 596.05,407.8 595.63,407.22 595.2,406.63 594.77,406.05 594.33,405.47 593.89,404.88 593.45,404.3 592.99,403.73 592.52,403.17 592.04,402.61 591.57,402.03 591.14,401.44 590.75,400.8 590.39,400.12 590.04,399.4 589.71,398.66 589.44,397.9 589.25,397.14 589.15,396.4 589.15,395.67 589.24,394.93 589.41,394.19 589.64,393.46 589.92,392.73 590.25,392 590.66,391.28 591.16,390.58 591.72,389.88 592.3,389.17 592.85,388.45 593.35,387.7 593.83,386.92 594.34,386.11 594.82,385.28 595.24,384.45 595.55,383.62 595.7,382.8 595.67,381.99 595.48,381.18 595.18,380.37 594.82,379.57 594.43,378.78 594.05,378 593.67,377.23 593.26,376.47 592.82,375.72 592.36,374.99 591.9,374.28 591.45,373.6 590.97,372.97 590.45,372.4 589.92,371.84 589.43,371.29 589.01,370.72 588.7,370.1 588.52,369.48 588.45,368.89 588.45,368.28 588.49,367.6 588.54,366.79 588.55,365.8 588.54,364.55 588.54,363.05 588.54,361.43 588.54,359.8 588.55,358.28 588.55,357 588.56,355.92 588.56,354.96 588.58,354.1 588.59,353.37 588.59,352.76 588.6,352.3 587.3,352.3 587.31,352.76 587.31,353.37 587.33,354.1 587.34,354.96 587.34,355.92 587.35,357 587.35,358.28 587.36,359.8 587.36,361.43 587.36,363.05 587.36,364.55 587.35,365.8 587.36,366.79 587.41,367.6 587.45,368.28 587.45,368.89 587.38,369.48 587.2,370.1 586.89,370.72 586.47,371.29 585.98,371.84 585.45,372.4 584.93,372.97 584.45,373.6 584,374.28 583.54,374.99 583.08,375.72 582.64,376.47 582.23,377.23 581.85,378 581.47,378.78 581.08,379.57 580.72,380.37 580.42,381.18 580.23,381.99 580.2,382.8 580.35,383.62 580.66,384.45 581.08,385.28 581.56,386.11 582.07,386.92 582.55,387.7 583.05,388.45 583.6,389.17 584.18,389.88 584.74,390.58 585.24,391.28 585.65,392 585.98,392.73 586.26,393.46 586.49,394.19 586.66,394.93 586.75,395.67 586.75,396.4 586.65,397.14 586.46,397.9 586.19,398.66 585.86,399.4 585.51,400.12 585.15,400.8 584.76,401.44 584.33,402.03 583.86,402.61 583.38,403.17 582.91,403.73 582.45,404.3 582.01,404.88 581.57,405.47 581.13,406.05 580.7,406.63 580.27,407.22 579.85,407.8 579.42,408.4 578.98,409.02 578.54,409.64 578.12,410.24 577.76,410.8 577.45,411.3 577.18,411.69 576.92,411.98 576.7,412.23 576.56,412.51 576.53,412.88 576.65,413.4 576.93,414.11 577.34,414.96 577.87,415.91 578.48,416.89 579.15,417.87 579.85,418.8 580.65,419.7 581.58,420.61 582.57,421.52 583.55,422.4 584.43,423.23 585.15,424 585.7,424.67 586.15,425.26 586.5,425.8 586.79,426.33 587.01,426.88 587.2,427.5 587.33,428.16 587.4,428.84 587.4,429.54 587.37,430.27 587.31,431.06 587.25,431.9 587.17,432.82 587.05,433.8 586.9,434.84 586.75,435.9 586.59,436.96 586.45,438 586.29,439.03 586.11,440.06 585.93,441.1 585.78,442.14 585.67,443.17 585.65,444.2 585.73,445.22 585.89,446.24 586.11,447.26 586.35,448.27 586.57,449.28 586.75,450.3 586.89,451.32 587.01,452.33 587.12,453.34 587.21,454.36 587.29,455.38 587.35,456.4 587.39,457.44 587.42,458.5 587.43,459.56 587.42,460.6 587.39,461.62 587.35,462.6 587.29,463.52 587.21,464.4 587.11,465.26 586.99,466.1 586.87,466.94 586.75,467.8 586.61,468.72 586.44,469.69 586.27,470.67 586.1,471.6 585.96,472.42 585.85,473.1 585.79,473.61 585.75,474 585.74,474.28 585.75,474.49 585.75,474.66 585.75,474.8"/><clipPath id="cF1"><use href="#vF1"/></clipPath></defs>
<use href="#vF1" fill="#ff8080"/>
<line x1="574.53" y1="413.4" x2="601.37" y2="413.4" stroke="#000" stroke-width="2" clip-path="url(#cF1)"/>
<line x1="576.65" y1="413.4" x2="600.25" y2="413.4" stroke="#8a1010" stroke-width="1.2" stroke-dasharray="4 3" clip-path="url(#cF1)"/>
<line x1="580.2" y1="382.8" x2="596.7" y2="382.8" stroke="#ff2020" stroke-width="1.2" stroke-dasharray="4 3" clip-path="url(#cF1)"/>
<defs><polygon id="vF2" points="626.15,444.2 626.12,443.83 626.08,443.33 626.04,442.73 625.98,442.06 625.92,441.38 625.85,440.7 625.77,440.02 625.68,439.3 625.58,438.56 625.47,437.8 625.36,437.04 625.25,436.3 625.13,435.57 625.01,434.83 624.88,434.1 624.76,433.37 624.64,432.63 624.55,431.9 624.45,431.17 624.32,430.43 624.21,429.7 624.14,428.97 624.14,428.23 624.25,427.5 624.46,426.77 624.75,426.03 625.11,425.29 625.53,424.56 626.02,423.83 626.55,423.1 627.17,422.39 627.89,421.7 628.67,421.01 629.46,420.31 630.24,419.58 630.95,418.8 631.65,417.93 632.37,416.96 633.07,415.96 633.7,415 634.21,414.12 634.55,413.4 634.7,412.88 634.69,412.51 634.56,412.23 634.35,411.98 634.1,411.69 633.85,411.3 633.59,410.8 633.27,410.24 632.92,409.64 632.54,409.02 632.15,408.4 631.75,407.8 631.35,407.22 630.93,406.63 630.49,406.05 630.05,405.47 629.6,404.88 629.15,404.3 628.68,403.73 628.2,403.17 627.71,402.61 627.22,402.03 626.77,401.44 626.35,400.8 625.93,400.12 625.5,399.4 625.09,398.66 624.75,397.9 624.52,397.14 624.45,396.4 624.55,395.67 624.8,394.93 625.16,394.19 625.59,393.46 626.07,392.73 626.55,392 627.08,391.28 627.7,390.58 628.36,389.88 629.02,389.17 629.63,388.45 630.15,387.7 630.61,386.92 631.05,386.11 631.44,385.28 631.75,384.45 631.97,383.62 632.05,382.8 631.97,381.98 631.74,381.14 631.4,380.31 631.01,379.5 630.61,378.72 630.25,378 629.93,377.35 629.62,376.77 629.29,376.23 628.95,375.69 628.57,375.12 628.15,374.5 627.64,373.82 627.05,373.1 626.42,372.35 625.81,371.59 625.27,370.84 624.85,370.1 624.56,369.38 624.35,368.66 624.22,367.95 624.13,367.24 624.06,366.52 624,365.8 623.94,365.07 623.92,364.34 623.91,363.61 623.93,362.87 623.96,362.13 624,361.4 624.05,360.67 624.11,359.94 624.19,359.22 624.28,358.49 624.4,357.75 624.55,357 624.75,356.18 625.01,355.28 625.28,354.38 625.56,353.53 625.79,352.81 625.95,352.3 620.55,352.3 620.71,352.81 620.94,353.53 621.22,354.38 621.49,355.28 621.75,356.18 621.95,357 622.1,357.75 622.22,358.49 622.31,359.22 622.39,359.94 622.45,360.67 622.5,361.4 622.54,362.13 622.57,362.87 622.59,363.61 622.58,364.34 622.56,365.07 622.5,365.8 622.44,366.52 622.37,367.24 622.28,367.95 622.15,368.66 621.94,369.38 621.65,370.1 621.23,370.84 620.69,371.59 620.08,372.35 619.45,373.1 618.86,373.82 618.35,374.5 617.93,375.12 617.55,375.69 617.21,376.23 616.88,376.77 616.57,377.35 616.25,378 615.89,378.72 615.49,379.5 615.1,380.31 614.76,381.14 614.53,381.98 614.45,382.8 614.53,383.62 614.75,384.45 615.06,385.28 615.45,386.11 615.89,386.92 616.35,387.7 616.87,388.45 617.48,389.17 618.14,389.88 618.8,390.58 619.42,391.28 619.95,392 620.43,392.73 620.91,393.46 621.34,394.19 621.7,394.93 621.95,395.67 622.05,396.4 621.98,397.14 621.75,397.9 621.41,398.66 621,399.4 620.57,400.12 620.15,400.8 619.73,401.44 619.28,402.03 618.79,402.61 618.3,403.17 617.82,403.73 617.35,404.3 616.9,404.88 616.45,405.47 616.01,406.05 615.57,406.63 615.15,407.22 614.75,407.8 614.35,408.4 613.96,409.02 613.58,409.64 613.23,410.24 612.91,410.8 612.65,411.3 612.4,411.69 612.15,411.98 611.94,412.23 611.81,412.51 611.8,412.88 611.95,413.4 612.29,414.12 612.8,415 613.43,415.96 614.13,416.96 614.85,417.93 615.55,418.8 616.26,419.58 617.04,420.31 617.83,421.01 618.61,421.7 619.33,422.39 619.95,423.1 620.48,423.83 620.97,424.56 621.39,425.29 621.75,426.03 622.04,426.77 622.25,427.5 622.36,428.23 622.36,428.97 622.29,429.7 622.18,430.43 622.05,431.17 621.95,431.9 621.86,432.63 621.74,433.37 621.62,434.1 621.49,434.83 621.37,435.57 621.25,436.3 621.14,437.04 621.03,437.8 620.92,438.56 620.82,439.3 620.73,440.02 620.65,440.7 620.58,441.38 620.52,442.06 620.46,442.73 620.42,443.33 620.38,443.83 620.35,444.2"/><clipPath id="cF2"><use href="#vF2"/></clipPath></defs>
<use href="#vF2" fill="#8080ff"/>
<line x1="609.8" y1="413.4" x2="636.7" y2="413.4" stroke="#000" stroke-width="2" clip-path="url(#cF2)"/>
<line x1="611.95" y1="413.4" x2="635.55" y2="413.4" stroke="#10108a" stroke-width="1.2" stroke-dasharray="4 3" clip-path="url(#cF2)"/>
<line x1="614.45" y1="382.8" x2="633.05" y2="382.8" stroke="#2020ff" stroke-width="1.2" stroke-dasharray="4 3" clip-path="url(#cF2)"/>
<defs><polygon id="vF3" points="662.55,474.8 662.55,474.66 662.55,474.49 662.54,474.28 662.53,474 662.5,473.61 662.45,473.1 662.37,472.42 662.27,471.6 662.15,470.67 662.02,469.69 661.89,468.72 661.75,467.8 661.59,466.94 661.4,466.1 661.21,465.26 661.03,464.4 660.9,463.52 660.85,462.6 660.87,461.62 660.94,460.6 661.05,459.56 661.21,458.5 661.41,457.44 661.65,456.4 661.96,455.38 662.34,454.36 662.76,453.34 663.19,452.33 663.6,451.32 663.95,450.3 664.28,449.3 664.61,448.33 664.91,447.36 665.17,446.37 665.36,445.32 665.45,444.2 665.43,442.97 665.32,441.64 665.14,440.26 664.9,438.87 664.63,437.54 664.35,436.3 663.99,435.17 663.51,434.1 663,433.09 662.54,432.1 662.19,431.11 662.05,430.1 662.13,429.07 662.37,428.03 662.73,426.99 663.18,425.96 663.66,424.96 664.15,424 664.68,423.08 665.29,422.21 665.94,421.36 666.6,420.51 667.21,419.67 667.75,418.8 668.23,417.87 668.68,416.89 669.1,415.91 669.46,414.96 669.75,414.11 669.95,413.4 670.04,412.88 670.03,412.51 669.95,412.23 669.82,411.98 669.68,411.69 669.55,411.3 669.43,410.8 669.29,410.24 669.14,409.64 668.97,409.02 668.78,408.4 668.55,407.8 668.29,407.22 667.99,406.63 667.67,406.05 667.33,405.47 666.99,404.88 666.65,404.3 666.3,403.73 665.94,403.17 665.57,402.61 665.21,402.03 664.87,401.44 664.55,400.8 664.24,400.12 663.91,399.4 663.61,398.66 663.34,397.9 663.15,397.14 663.05,396.4 663.05,395.67 663.14,394.93 663.29,394.19 663.5,393.46 663.76,392.73 664.05,392 664.41,391.28 664.86,390.58 665.36,389.88 665.86,389.17 666.34,388.45 666.75,387.7 667.11,386.92 667.47,386.11 667.8,385.28 668.07,384.45 668.28,383.62 668.4,382.8 668.42,382 668.37,381.21 668.24,380.42 668.06,379.63 667.82,378.82 667.55,378 667.23,377.16 666.84,376.3 666.4,375.43 665.93,374.56 665.44,373.68 664.95,372.8 664.42,371.91 663.84,371.01 663.24,370.1 662.66,369.2 662.12,368.33 661.65,367.5 661.26,366.73 660.92,366.03 660.63,365.35 660.38,364.66 660.15,363.92 659.95,363.1 659.78,362.17 659.65,361.14 659.55,360.07 659.47,358.99 659.41,357.96 659.35,357 659.31,356.08 659.29,355.16 659.29,354.27 659.29,353.47 659.3,352.8 659.3,352.3 657.8,352.3 657.8,352.8 657.81,353.47 657.81,354.27 657.81,355.16 657.79,356.08 657.75,357 657.69,357.96 657.63,358.99 657.55,360.07 657.45,361.14 657.32,362.17 657.15,363.1 656.95,363.92 656.72,364.66 656.47,365.35 656.18,366.03 655.84,366.73 655.45,367.5 654.98,368.33 654.44,369.2 653.86,370.1 653.26,371.01 652.68,371.91 652.15,372.8 651.66,373.68 651.17,374.56 650.7,375.43 650.26,376.3 649.87,377.16 649.55,378 649.28,378.82 649.04,379.63 648.86,380.42 648.73,381.21 648.68,382 648.7,382.8 648.82,383.62 649.03,384.45 649.3,385.28 649.63,386.11 649.99,386.92 650.35,387.7 650.76,388.45 651.24,389.17 651.74,389.88 652.24,390.58 652.69,391.28 653.05,392 653.34,392.73 653.6,393.46 653.81,394.19 653.96,394.93 654.05,395.67 654.05,396.4 653.95,397.14 653.76,397.9 653.49,398.66 653.19,399.4 652.86,400.12 652.55,400.8 652.23,401.44 651.89,402.03 651.52,402.61 651.16,403.17 650.8,403.73 650.45,404.3 650.11,404.88 649.77,405.47 649.43,406.05 649.11,406.63 648.81,407.22 648.55,407.8 648.32,408.4 648.13,409.02 647.96,409.64 647.81,410.24 647.67,410.8 647.55,411.3 647.42,411.69 647.28,411.98 647.15,412.23 647.07,412.51 647.06,412.88 647.15,413.4 647.35,414.11 647.64,414.96 648,415.91 648.42,416.89 648.87,417.87 649.35,418.8 649.89,419.67 650.5,420.51 651.16,421.36 651.81,422.21 652.42,423.08 652.95,424 653.44,424.96 653.92,425.96 654.37,426.99 654.73,428.03 654.97,429.07 655.05,430.1 654.91,431.11 654.56,432.1 654.1,433.09 653.59,434.1 653.11,435.17 652.75,436.3 652.47,437.54 652.2,438.87 651.96,440.26 651.78,441.64 651.67,442.97 651.65,444.2 651.74,445.32 651.93,446.37 652.19,447.36 652.49,448.33 652.82,449.3 653.15,450.3 653.5,451.32 653.91,452.33 654.34,453.34 654.76,454.36 655.14,455.38 655.45,456.4 655.69,457.44 655.89,458.5 656.05,459.56 656.16,460.6 656.23,461.62 656.25,462.6 656.2,463.52 656.07,464.4 655.89,465.26 655.7,466.1 655.51,466.94 655.35,467.8 655.21,468.72 655.08,469.69 654.95,470.67 654.83,471.6 654.73,472.42 654.65,473.1 654.6,473.61 654.57,474 654.56,474.28 654.55,474.49 654.55,474.66 654.55,474.8"/><clipPath id="cF3"><use href="#vF3"/></clipPath></defs>
<use href="#vF3" fill="#ff8080"/>
<line x1="645.06" y1="413.4" x2="672.04" y2="413.4" stroke="#000" stroke-width="2" clip-path="url(#cF3)"/>
<line x1="648.7" y1="382.8" x2="669.4" y2="382.8" stroke="#ff2020" stroke-width="1.2" stroke-dasharray="4 3" clip-path="url(#cF3)"/>
<line x1="651.65" y1="444.2" x2="666.45" y2="444.2" stroke="#ff2020" stroke-width="1.2" stroke-dasharray="4 3" clip-path="url(#cF3)"/>
<path d="M528.9,320.75V474.8M522.55,474.8H683.35" stroke="#000" stroke-width="1.5" fill="none"/>
<line x1="522.75" y1="474.8" x2="528.9" y2="474.8" stroke="#000" stroke-width="1.5"/>
<text x="520.75" y="479.2" text-anchor="end" class="t">0</text>
<line x1="522.75" y1="444.14" x2="528.9" y2="444.14" stroke="#000" stroke-width="1.5"/>
<text x="520.75" y="448.54" text-anchor="end" class="t">50</text>
<line x1="522.75" y1="413.48" x2="528.9" y2="413.48" stroke="#000" stroke-width="1.5"/>
<text x="520.75" y="417.88" text-anchor="end" class="t">100</text>
<line x1="522.75" y1="382.82" x2="528.9" y2="382.82" stroke="#000" stroke-width="1.5"/>
<text x="520.75" y="387.22" text-anchor="end" class="t">150</text>
<line x1="522.75" y1="352.16" x2="528.9" y2="352.16" stroke="#000" stroke-width="1.5"/>
<text x="520.75" y="356.56" text-anchor="end" class="t">200</text>
<line x1="522.75" y1="321.5" x2="528.9" y2="321.5" stroke="#000" stroke-width="1.5"/>
<text x="520.75" y="325.9" text-anchor="end" class="t">250</text>
<line x1="552.65" y1="474.8" x2="552.65" y2="480.8" stroke="#000" stroke-width="1.5"/>
<text x="556.25" y="492.7" text-anchor="end" class="x" transform="rotate(-45 556.25 492.7)">BCT (pre)</text>
<line x1="587.95" y1="474.8" x2="587.95" y2="480.8" stroke="#000" stroke-width="1.5"/>
<text x="591.55" y="492.7" text-anchor="end" class="x" transform="rotate(-45 591.55 492.7)">Usual care (pre)</text>
<line x1="623.25" y1="474.8" x2="623.25" y2="480.8" stroke="#000" stroke-width="1.5"/>
<text x="626.85" y="492.7" text-anchor="end" class="x" transform="rotate(-45 626.85 492.7)">BCT (post)</text>
<line x1="658.55" y1="474.8" x2="658.55" y2="480.8" stroke="#000" stroke-width="1.5"/>
<text x="662.15" y="492.7" text-anchor="end" class="x" transform="rotate(-45 662.15 492.7)">Usual care (post)</text>
<text x="511" y="303.8" class="L">F</text>
<defs><polygon id="vG0" points="175,755.5 175,755.46 175,755.42 175,755.37 174.99,755.27 174.98,755.09 174.95,754.8 174.91,754.4 174.88,753.9 174.83,753.33 174.77,752.7 174.68,752.01 174.55,751.3 174.38,750.53 174.16,749.7 173.91,748.81 173.66,747.9 173.42,746.99 173.2,746.1 172.99,745.22 172.76,744.34 172.53,743.46 172.35,742.57 172.23,741.68 172.2,740.8 172.26,739.92 172.39,739.03 172.59,738.14 172.84,737.26 173.15,736.38 173.5,735.5 173.93,734.63 174.46,733.76 175.04,732.9 175.63,732.04 176.2,731.17 176.7,730.3 177.18,729.42 177.67,728.54 178.13,727.65 178.53,726.76 178.84,725.88 179,725 179.01,724.12 178.89,723.23 178.67,722.34 178.38,721.47 178.05,720.62 177.7,719.8 177.31,719.03 176.86,718.31 176.36,717.61 175.84,716.9 175.35,716.18 174.9,715.4 174.44,714.58 173.93,713.73 173.44,712.86 173.03,711.96 172.76,711.04 172.7,710.1 172.89,709.12 173.29,708.09 173.82,707.04 174.45,706 175.09,704.97 175.7,704 176.3,703.07 176.95,702.18 177.62,701.31 178.29,700.46 178.93,699.62 179.5,698.8 180.03,697.96 180.55,697.09 181.04,696.24 181.47,695.45 181.83,694.76 182.1,694.2 182.27,693.84 182.36,693.66 182.38,693.58 182.33,693.51 182.23,693.38 182.1,693.1 181.91,692.65 181.66,692.1 181.36,691.47 181.03,690.83 180.67,690.19 180.3,689.6 179.9,689.05 179.46,688.5 178.99,687.97 178.53,687.45 178.09,686.96 177.7,686.5 177.37,686.1 177.1,685.75 176.84,685.42 176.59,685.1 176.32,684.73 176,684.3 175.61,683.8 175.17,683.26 174.71,682.69 174.26,682.08 173.84,681.45 173.5,680.8 173.22,680.12 172.96,679.4 172.75,678.66 172.59,677.9 172.49,677.14 172.45,676.4 172.49,675.67 172.6,674.93 172.77,674.19 172.98,673.46 173.23,672.73 173.5,672 173.83,671.28 174.23,670.56 174.66,669.85 175.09,669.14 175.48,668.42 175.8,667.7 176.05,666.97 176.26,666.24 176.42,665.51 176.56,664.77 176.65,664.03 176.7,663.3 176.71,662.57 176.67,661.83 176.59,661.1 176.48,660.37 176.35,659.63 176.2,658.9 176.04,658.17 175.86,657.43 175.66,656.7 175.43,655.97 175.18,655.23 174.9,654.5 174.57,653.77 174.19,653.03 173.77,652.29 173.37,651.56 173,650.83 172.7,650.1 172.47,649.38 172.28,648.66 172.12,647.95 172,647.24 171.89,646.52 171.8,645.8 171.72,645.07 171.67,644.34 171.63,643.61 171.61,642.87 171.6,642.13 171.6,641.4 171.6,640.66 171.61,639.92 171.63,639.18 171.67,638.44 171.72,637.71 171.8,637 171.92,636.26 172.08,635.49 172.26,634.73 172.44,634.02 172.59,633.43 172.7,633 168.7,633 168.81,633.43 168.96,634.02 169.14,634.73 169.32,635.49 169.48,636.26 169.6,637 169.68,637.71 169.73,638.44 169.77,639.18 169.79,639.92 169.8,640.66 169.8,641.4 169.8,642.13 169.79,642.87 169.77,643.61 169.73,644.34 169.68,645.07 169.6,645.8 169.51,646.52 169.4,647.24 169.27,647.95 169.12,648.66 168.93,649.38 168.7,650.1 168.4,650.83 168.03,651.56 167.62,652.29 167.21,653.03 166.83,653.77 166.5,654.5 166.22,655.23 165.97,655.97 165.74,656.7 165.54,657.43 165.36,658.17 165.2,658.9 165.05,659.63 164.92,660.37 164.81,661.1 164.73,661.83 164.69,662.57 164.7,663.3 164.75,664.03 164.84,664.77 164.97,665.51 165.14,666.24 165.35,666.97 165.6,667.7 165.92,668.42 166.31,669.14 166.74,669.85 167.17,670.56 167.57,671.28 167.9,672 168.17,672.73 168.42,673.46 168.63,674.19 168.8,674.93 168.91,675.67 168.95,676.4 168.91,677.14 168.81,677.9 168.65,678.66 168.44,679.4 168.18,680.12 167.9,680.8 167.56,681.45 167.14,682.08 166.69,682.69 166.23,683.26 165.79,683.8 165.4,684.3 165.08,684.73 164.81,685.1 164.56,685.42 164.3,685.75 164.03,686.1 163.7,686.5 163.31,686.96 162.87,687.45 162.41,687.97 161.94,688.5 161.5,689.05 161.1,689.6 160.73,690.19 160.37,690.83 160.04,691.47 159.74,692.1 159.49,692.65 159.3,693.1 159.17,693.38 159.07,693.51 159.02,693.58 159.04,693.66 159.13,693.84 159.3,694.2 159.57,694.76 159.93,695.45 160.36,696.24 160.85,697.09 161.37,697.96 161.9,698.8 162.47,699.62 163.11,700.46 163.77,701.31 164.45,702.18 165.1,703.07 165.7,704 166.31,704.97 166.95,706 167.57,707.04 168.11,708.09 168.51,709.12 168.7,710.1 168.64,711.04 168.37,711.96 167.96,712.86 167.47,713.73 166.96,714.58 166.5,715.4 166.05,716.18 165.56,716.9 165.04,717.61 164.54,718.31 164.09,719.03 163.7,719.8 163.35,720.62 163.02,721.47 162.73,722.34 162.51,723.23 162.39,724.12 162.4,725 162.56,725.88 162.87,726.76 163.27,727.65 163.73,728.54 164.22,729.42 164.7,730.3 165.2,731.17 165.77,732.04 166.36,732.9 166.94,733.76 167.47,734.63 167.9,735.5 168.25,736.38 168.56,737.26 168.81,738.14 169.01,739.03 169.14,739.92 169.2,740.8 169.17,741.68 169.05,742.57 168.87,743.46 168.64,744.34 168.41,745.22 168.2,746.1 167.98,746.99 167.74,747.9 167.49,748.81 167.24,749.7 167.02,750.53 166.85,751.3 166.72,752.01 166.63,752.7 166.57,753.33 166.52,753.9 166.49,754.4 166.45,754.8 166.42,755.09 166.41,755.27 166.4,755.37 166.4,755.42 166.4,755.46 166.4,755.5"/><clipPath id="cG0"><use href="#vG0"/></clipPath></defs>
<use href="#vG0" fill="#8080ff"/>
<line x1="157.02" y1="694.1" x2="184.38" y2="694.1" stroke="#000" stroke-width="2" clip-path="url(#cG0)"/>
<line x1="163.7" y1="686.5" x2="178.7" y2="686.5" stroke="#2020ff" stroke-width="1.2" stroke-dasharray="4 3" clip-path="url(#cG0)"/>
<line x1="162.4" y1="725" x2="180" y2="725" stroke="#2020ff" stroke-width="1.2" stroke-dasharray="4 3" clip-path="url(#cG0)"/>
<line x1="166.43" y1="755" x2="175.97" y2="755" stroke="#2020ff" stroke-width="1.2" stroke-dasharray="4 3" clip-path="url(#cG0)"/>
<defs><polygon id="vG1" points="210,755.5 209.99,755.48 209.98,755.49 209.97,755.48 209.95,755.39 209.93,755.19 209.9,754.8 209.87,754.19 209.84,753.4 209.81,752.49 209.76,751.51 209.69,750.52 209.6,749.6 209.47,748.72 209.3,747.84 209.11,746.96 208.92,746.07 208.75,745.18 208.6,744.3 208.47,743.44 208.36,742.6 208.25,741.76 208.17,740.89 208.11,739.98 208.1,739 208.13,737.93 208.21,736.79 208.31,735.61 208.44,734.4 208.57,733.19 208.7,732 208.85,730.85 209.02,729.73 209.21,728.61 209.38,727.46 209.52,726.27 209.6,725 209.62,723.62 209.6,722.13 209.55,720.6 209.47,719.08 209.39,717.62 209.3,716.3 209.19,715.12 209.05,714.04 208.89,713.04 208.75,712.07 208.65,711.1 208.6,710.1 208.61,709.07 208.67,708.03 208.76,706.99 208.89,705.96 209.03,704.96 209.2,704 209.41,703.08 209.67,702.19 209.95,701.32 210.23,700.48 210.49,699.64 210.7,698.8 210.86,697.98 211,697.19 211.12,696.41 211.21,695.61 211.27,694.78 211.3,693.9 211.29,692.94 211.23,691.92 211.15,690.87 211.06,689.81 210.97,688.78 210.9,687.8 210.86,686.86 210.83,685.94 210.81,685.05 210.78,684.19 210.75,683.37 210.7,682.6 210.61,681.9 210.47,681.27 210.32,680.69 210.2,680.11 210.15,679.53 210.2,678.9 210.36,678.24 210.6,677.58 210.91,676.9 211.27,676.2 211.67,675.47 212.1,674.7 212.58,673.89 213.13,673.04 213.72,672.17 214.32,671.27 214.89,670.34 215.4,669.4 215.88,668.44 216.38,667.46 216.84,666.46 217.24,665.43 217.54,664.38 217.7,663.3 217.71,662.18 217.59,661 217.38,659.81 217.07,658.61 216.71,657.43 216.3,656.3 215.82,655.21 215.24,654.14 214.61,653.09 213.93,652.06 213.25,651.07 212.6,650.1 211.94,649.19 211.23,648.33 210.53,647.49 209.84,646.66 209.22,645.81 208.7,644.9 208.27,643.93 207.91,642.92 207.62,641.89 207.37,640.84 207.17,639.81 207,638.8 206.88,637.75 206.81,636.63 206.79,635.52 206.8,634.49 206.8,633.63 206.8,633 205.2,633 205.2,633.63 205.2,634.49 205.21,635.52 205.19,636.63 205.12,637.75 205,638.8 204.83,639.81 204.63,640.84 204.38,641.89 204.09,642.92 203.73,643.93 203.3,644.9 202.78,645.81 202.16,646.66 201.47,647.49 200.77,648.33 200.06,649.19 199.4,650.1 198.75,651.07 198.07,652.06 197.39,653.09 196.76,654.14 196.18,655.21 195.7,656.3 195.29,657.43 194.93,658.61 194.62,659.81 194.41,661 194.29,662.18 194.3,663.3 194.46,664.38 194.76,665.43 195.16,666.46 195.62,667.46 196.12,668.44 196.6,669.4 197.11,670.34 197.68,671.27 198.28,672.17 198.87,673.04 199.42,673.89 199.9,674.7 200.33,675.47 200.73,676.2 201.09,676.9 201.4,677.58 201.64,678.24 201.8,678.9 201.85,679.53 201.8,680.11 201.68,680.69 201.53,681.27 201.39,681.9 201.3,682.6 201.25,683.37 201.22,684.19 201.19,685.05 201.17,685.94 201.14,686.86 201.1,687.8 201.03,688.78 200.94,689.81 200.85,690.87 200.77,691.92 200.71,692.94 200.7,693.9 200.73,694.78 200.79,695.61 200.88,696.41 201,697.19 201.14,697.98 201.3,698.8 201.51,699.64 201.77,700.48 202.05,701.32 202.33,702.19 202.59,703.08 202.8,704 202.97,704.96 203.11,705.96 203.24,706.99 203.33,708.03 203.39,709.07 203.4,710.1 203.35,711.1 203.25,712.07 203.11,713.04 202.95,714.04 202.81,715.12 202.7,716.3 202.61,717.62 202.53,719.08 202.45,720.6 202.4,722.13 202.38,723.62 202.4,725 202.48,726.27 202.62,727.46 202.79,728.61 202.98,729.73 203.15,730.85 203.3,732 203.43,733.19 203.56,734.4 203.69,735.61 203.79,736.79 203.87,737.93 203.9,739 203.89,739.98 203.83,740.89 203.75,741.76 203.64,742.6 203.53,743.44 203.4,744.3 203.25,745.18 203.08,746.07 202.89,746.96 202.7,747.84 202.53,748.72 202.4,749.6 202.31,750.52 202.24,751.51 202.19,752.49 202.16,753.4 202.13,754.19 202.1,754.8 202.07,755.19 202.05,755.39 202.03,755.48 202.02,755.49 202.01,755.48 202,755.5"/><clipPath id="cG1"><use href="#vG1"/></clipPath></defs>
<use href="#vG1" fill="#ff8080"/>
<line x1="192.29" y1="678.9" x2="219.71" y2="678.9" stroke="#000" stroke-width="2" clip-path="url(#cG1)"/>
<line x1="194.31" y1="663.4" x2="218.69" y2="663.4" stroke="#ff2020" stroke-width="1.2" stroke-dasharray="4 3" clip-path="url(#cG1)"/>
<line x1="202.4" y1="725" x2="210.6" y2="725" stroke="#ff2020" stroke-width="1.2" stroke-dasharray="4 3" clip-path="url(#cG1)"/>
<defs><polygon id="vG2" points="243.05,724.6 243.02,724.08 242.99,723.37 242.95,722.53 242.9,721.61 242.85,720.68 242.8,719.8 242.74,718.94 242.68,718.07 242.61,717.17 242.54,716.28 242.49,715.38 242.45,714.5 242.41,713.63 242.36,712.76 242.31,711.9 242.3,711.04 242.34,710.17 242.45,709.3 242.63,708.42 242.85,707.54 243.12,706.65 243.46,705.76 243.85,704.88 244.3,704 244.86,703.12 245.54,702.25 246.27,701.38 247.01,700.51 247.71,699.65 248.3,698.8 248.83,697.97 249.36,697.16 249.84,696.35 250.23,695.54 250.5,694.73 250.6,693.9 250.51,693.04 250.24,692.16 249.84,691.27 249.37,690.39 248.88,689.52 248.4,688.7 247.91,687.92 247.37,687.17 246.8,686.45 246.23,685.74 245.68,685.02 245.2,684.3 244.75,683.56 244.3,682.8 243.88,682.04 243.51,681.3 243.23,680.58 243.05,679.9 242.97,679.27 242.98,678.7 243.07,678.15 243.23,677.6 243.48,677.02 243.8,676.4 244.23,675.72 244.77,675 245.4,674.25 246.06,673.49 246.74,672.74 247.4,672 248.07,671.28 248.8,670.56 249.54,669.84 250.24,669.12 250.88,668.41 251.4,667.7 251.82,666.99 252.18,666.27 252.47,665.56 252.67,664.86 252.79,664.17 252.8,663.5 252.68,662.86 252.44,662.24 252.11,661.64 251.71,661.04 251.3,660.43 250.9,659.8 250.51,659.17 250.11,658.55 249.68,657.93 249.23,657.27 248.73,656.57 248.2,655.8 247.58,654.93 246.86,653.97 246.1,652.97 245.37,651.96 244.72,650.99 244.2,650.1 243.82,649.3 243.52,648.57 243.31,647.87 243.16,647.19 243.08,646.51 243.05,645.8 243.08,645.07 243.19,644.34 243.36,643.61 243.58,642.87 243.83,642.13 244.1,641.4 244.41,640.66 244.79,639.92 245.19,639.18 245.61,638.44 246.02,637.71 246.4,637 246.77,636.26 247.16,635.49 247.54,634.73 247.89,634.02 248.19,633.43 248.4,633 234.2,633 234.41,633.43 234.71,634.02 235.06,634.73 235.44,635.49 235.83,636.26 236.2,637 236.58,637.71 236.99,638.44 237.41,639.18 237.81,639.92 238.19,640.66 238.5,641.4 238.77,642.13 239.02,642.87 239.24,643.61 239.41,644.34 239.52,645.07 239.55,645.8 239.52,646.51 239.44,647.19 239.29,647.87 239.08,648.57 238.78,649.3 238.4,650.1 237.88,650.99 237.23,651.96 236.5,652.97 235.74,653.97 235.02,654.93 234.4,655.8 233.87,656.57 233.37,657.27 232.92,657.93 232.49,658.55 232.09,659.17 231.7,659.8 231.3,660.43 230.89,661.04 230.49,661.64 230.16,662.24 229.92,662.86 229.8,663.5 229.81,664.17 229.93,664.86 230.13,665.56 230.42,666.27 230.78,666.99 231.2,667.7 231.72,668.41 232.36,669.12 233.06,669.84 233.8,670.56 234.53,671.28 235.2,672 235.86,672.74 236.54,673.49 237.2,674.25 237.83,675 238.37,675.72 238.8,676.4 239.12,677.02 239.37,677.6 239.53,678.15 239.62,678.7 239.63,679.27 239.55,679.9 239.37,680.58 239.09,681.3 238.72,682.04 238.3,682.8 237.85,683.56 237.4,684.3 236.92,685.02 236.37,685.74 235.8,686.45 235.23,687.17 234.69,687.92 234.2,688.7 233.72,689.52 233.23,690.39 232.76,691.27 232.36,692.16 232.09,693.04 232,693.9 232.1,694.73 232.37,695.54 232.76,696.35 233.24,697.16 233.77,697.97 234.3,698.8 234.89,699.65 235.59,700.51 236.33,701.38 237.06,702.25 237.74,703.12 238.3,704 238.75,704.88 239.14,705.76 239.48,706.65 239.75,707.54 239.97,708.42 240.15,709.3 240.26,710.17 240.3,711.04 240.29,711.9 240.24,712.76 240.19,713.63 240.15,714.5 240.11,715.38 240.06,716.28 239.99,717.17 239.92,718.07 239.86,718.94 239.8,719.8 239.75,720.68 239.7,721.61 239.65,722.53 239.61,723.37 239.58,724.08 239.55,724.6"/><clipPath id="cG2"><use href="#vG2"/></clipPath></defs>
<use href="#vG2" fill="#8080ff"/>
<line x1="227.8" y1="663.5" x2="254.8" y2="663.5" stroke="#000" stroke-width="2" clip-path="url(#cG2)"/>
<line x1="234.4" y1="655.8" x2="249.2" y2="655.8" stroke="#2020ff" stroke-width="1.2" stroke-dasharray="4 3" clip-path="url(#cG2)"/>
<line x1="232.02" y1="694.1" x2="251.58" y2="694.1" stroke="#2020ff" stroke-width="1.2" stroke-dasharray="4 3" clip-path="url(#cG2)"/>
<defs><polygon id="vG3" points="281.1,755.5 281.11,755.48 281.12,755.49 281.14,755.48 281.14,755.39 281.13,755.19 281.1,754.8 281.04,754.19 280.96,753.4 280.86,752.49 280.75,751.51 280.63,750.52 280.5,749.6 280.36,748.72 280.21,747.84 280.04,746.96 279.87,746.07 279.69,745.18 279.5,744.3 279.29,743.44 279.05,742.6 278.8,741.76 278.57,740.89 278.38,739.98 278.25,739 278.2,737.93 278.2,736.79 278.24,735.61 278.31,734.4 278.39,733.19 278.45,732 278.52,730.82 278.61,729.63 278.7,728.44 278.79,727.27 278.86,726.11 278.9,725 278.9,723.93 278.86,722.9 278.8,721.89 278.74,720.9 278.69,719.91 278.65,718.9 278.63,717.89 278.6,716.9 278.58,715.91 278.58,714.9 278.6,713.87 278.65,712.8 278.72,711.69 278.81,710.53 278.93,709.36 279.07,708.17 279.24,706.98 279.45,705.8 279.73,704.61 280.07,703.39 280.44,702.17 280.81,700.98 281.15,699.85 281.4,698.8 281.57,697.84 281.69,696.93 281.77,696.07 281.82,695.29 281.86,694.56 281.9,693.9 281.95,693.4 281.99,693.09 282.02,692.84 282.03,692.53 282.03,692.06 282,691.3 281.92,690.18 281.78,688.79 281.62,687.23 281.49,685.61 281.4,684.03 281.4,682.6 281.48,681.31 281.61,680.08 281.79,678.89 282.03,677.73 282.33,676.61 282.7,675.5 283.17,674.42 283.76,673.39 284.41,672.38 285.07,671.38 285.68,670.39 286.2,669.4 286.65,668.42 287.07,667.47 287.46,666.52 287.77,665.56 287.99,664.56 288.1,663.5 288.08,662.36 287.96,661.16 287.74,659.92 287.44,658.67 287.09,657.46 286.7,656.3 286.23,655.2 285.67,654.12 285.06,653.07 284.41,652.06 283.78,651.06 283.2,650.1 282.64,649.19 282.07,648.33 281.51,647.49 280.99,646.66 280.51,645.81 280.1,644.9 279.77,643.93 279.5,642.92 279.28,641.89 279.1,640.84 278.95,639.81 278.8,638.8 278.67,637.75 278.57,636.63 278.49,635.52 278.44,634.49 278.39,633.63 278.35,633 274.85,633 274.81,633.63 274.76,634.49 274.71,635.52 274.63,636.63 274.53,637.75 274.4,638.8 274.25,639.81 274.1,640.84 273.92,641.89 273.7,642.92 273.43,643.93 273.1,644.9 272.69,645.81 272.21,646.66 271.69,647.49 271.13,648.33 270.56,649.19 270,650.1 269.42,651.06 268.79,652.06 268.14,653.07 267.53,654.12 266.97,655.2 266.5,656.3 266.11,657.46 265.76,658.67 265.46,659.92 265.24,661.16 265.12,662.36 265.1,663.5 265.21,664.56 265.43,665.56 265.74,666.52 266.13,667.47 266.55,668.42 267,669.4 267.52,670.39 268.13,671.38 268.79,672.38 269.44,673.39 270.03,674.42 270.5,675.5 270.87,676.61 271.17,677.73 271.41,678.89 271.59,680.08 271.72,681.31 271.8,682.6 271.8,684.03 271.71,685.61 271.58,687.23 271.42,688.79 271.28,690.18 271.2,691.3 271.17,692.06 271.17,692.53 271.18,692.84 271.21,693.09 271.25,693.4 271.3,693.9 271.34,694.56 271.38,695.29 271.43,696.07 271.51,696.93 271.63,697.84 271.8,698.8 272.05,699.85 272.39,700.98 272.76,702.17 273.13,703.39 273.47,704.61 273.75,705.8 273.96,706.98 274.13,708.17 274.27,709.36 274.39,710.53 274.48,711.69 274.55,712.8 274.6,713.87 274.62,714.9 274.62,715.91 274.6,716.9 274.57,717.89 274.55,718.9 274.51,719.91 274.46,720.9 274.4,721.89 274.34,722.9 274.3,723.93 274.3,725 274.34,726.11 274.41,727.27 274.5,728.44 274.59,729.63 274.68,730.82 274.75,732 274.81,733.19 274.89,734.4 274.96,735.61 275,736.79 275,737.93 274.95,739 274.82,739.98 274.63,740.89 274.4,741.76 274.15,742.6 273.91,743.44 273.7,744.3 273.51,745.18 273.33,746.07 273.16,746.96 272.99,747.84 272.84,748.72 272.7,749.6 272.57,750.52 272.45,751.51 272.34,752.49 272.24,753.4 272.16,754.19 272.1,754.8 272.07,755.19 272.06,755.39 272.06,755.48 272.08,755.49 272.09,755.48 272.1,755.5"/><clipPath id="cG3"><use href="#vG3"/></clipPath></defs>
<use href="#vG3" fill="#ff8080"/>
<line x1="263.1" y1="663.5" x2="290.1" y2="663.5" stroke="#000" stroke-width="2" clip-path="url(#cG3)"/>
<line x1="265.1" y1="663.5" x2="289.1" y2="663.5" stroke="#8a1010" stroke-width="1.2" stroke-dasharray="4 3" clip-path="url(#cG3)"/>
<line x1="274.3" y1="725" x2="279.9" y2="725" stroke="#ff2020" stroke-width="1.2" stroke-dasharray="4 3" clip-path="url(#cG3)"/>
<path d="M147.2,601.45V755.5M140.85,755.5H301.4" stroke="#000" stroke-width="1.5" fill="none"/>
<line x1="141.05" y1="755.5" x2="147.2" y2="755.5" stroke="#000" stroke-width="1.5"/>
<text x="139.6" y="759.9" text-anchor="end" class="t">0</text>
<line x1="141.05" y1="724.84" x2="147.2" y2="724.84" stroke="#000" stroke-width="1.5"/>
<text x="139.6" y="729.24" text-anchor="end" class="t">50</text>
<line x1="141.05" y1="694.18" x2="147.2" y2="694.18" stroke="#000" stroke-width="1.5"/>
<text x="139.6" y="698.58" text-anchor="end" class="t">100</text>
<line x1="141.05" y1="663.52" x2="147.2" y2="663.52" stroke="#000" stroke-width="1.5"/>
<text x="139.6" y="667.92" text-anchor="end" class="t">150</text>
<line x1="141.05" y1="632.86" x2="147.2" y2="632.86" stroke="#000" stroke-width="1.5"/>
<text x="139.6" y="637.26" text-anchor="end" class="t">200</text>
<line x1="141.05" y1="602.2" x2="147.2" y2="602.2" stroke="#000" stroke-width="1.5"/>
<text x="139.6" y="606.6" text-anchor="end" class="t">250</text>
<line x1="170.7" y1="755.5" x2="170.7" y2="761.5" stroke="#000" stroke-width="1.5"/>
<text x="174.3" y="773.4" text-anchor="end" class="x" transform="rotate(-45 174.3 773.4)">BCT (pre)</text>
<line x1="206" y1="755.5" x2="206" y2="761.5" stroke="#000" stroke-width="1.5"/>
<text x="209.6" y="773.4" text-anchor="end" class="x" transform="rotate(-45 209.6 773.4)">Usual care (pre)</text>
<line x1="241.3" y1="755.5" x2="241.3" y2="761.5" stroke="#000" stroke-width="1.5"/>
<text x="244.9" y="773.4" text-anchor="end" class="x" transform="rotate(-45 244.9 773.4)">BCT (post)</text>
<line x1="276.6" y1="755.5" x2="276.6" y2="761.5" stroke="#000" stroke-width="1.5"/>
<text x="280.2" y="773.4" text-anchor="end" class="x" transform="rotate(-45 280.2 773.4)">Usual care (post)</text>
<text x="130.8" y="586.5" class="L">G</text>
<defs><polygon id="vH0" points="464,735.2 464.07,735.05 464.17,734.86 464.29,734.62 464.41,734.36 464.52,734.08 464.6,733.8 464.65,733.56 464.69,733.37 464.72,733.16 464.73,732.89 464.72,732.48 464.7,731.9 464.65,731.14 464.56,730.26 464.46,729.26 464.36,728.13 464.27,726.87 464.2,725.5 464.16,723.93 464.13,722.15 464.12,720.24 464.11,718.31 464.1,716.43 464.1,714.7 464.09,713.08 464.07,711.48 464.06,709.94 464.06,708.5 464.09,707.17 464.15,706 464.25,705.04 464.37,704.28 464.52,703.64 464.69,703.04 464.89,702.42 465.1,701.7 465.34,700.88 465.6,700.01 465.88,699.12 466.18,698.21 466.49,697.3 466.8,696.4 467.1,695.5 467.39,694.59 467.69,693.68 468.02,692.77 468.38,691.87 468.8,691 469.34,690.14 470,689.29 470.69,688.45 471.35,687.63 471.88,686.85 472.2,686.1 472.28,685.41 472.17,684.77 471.94,684.16 471.64,683.56 471.34,682.95 471.1,682.3 470.88,681.61 470.64,680.9 470.39,680.18 470.16,679.45 469.99,678.72 469.9,678 469.89,677.28 469.93,676.55 470.03,675.82 470.17,675.1 470.36,674.39 470.6,673.7 470.91,673.03 471.3,672.37 471.73,671.73 472.18,671.1 472.62,670.49 473,669.9 473.35,669.33 473.7,668.79 474.03,668.26 474.33,667.74 474.59,667.23 474.8,666.7 474.97,666.17 475.1,665.66 475.2,665.14 475.25,664.61 475.25,664.07 475.2,663.5 475.08,662.88 474.88,662.2 474.64,661.5 474.36,660.83 474.08,660.21 473.8,659.7 473.5,659.29 473.16,658.94 472.81,658.66 472.48,658.43 472.2,658.25 472,658.1 455.2,658.1 455,658.25 454.72,658.43 454.39,658.66 454.04,658.94 453.7,659.29 453.4,659.7 453.12,660.21 452.84,660.83 452.56,661.5 452.32,662.2 452.12,662.88 452,663.5 451.95,664.07 451.95,664.61 452,665.14 452.1,665.66 452.23,666.17 452.4,666.7 452.61,667.23 452.87,667.74 453.18,668.26 453.5,668.79 453.85,669.33 454.2,669.9 454.58,670.49 455.02,671.1 455.47,671.73 455.9,672.37 456.29,673.03 456.6,673.7 456.84,674.39 457.03,675.1 457.18,675.82 457.27,676.55 457.31,677.28 457.3,678 457.21,678.72 457.04,679.45 456.81,680.18 456.56,680.9 456.32,681.61 456.1,682.3 455.86,682.95 455.56,683.56 455.26,684.16 455.03,684.77 454.92,685.41 455,686.1 455.32,686.85 455.85,687.63 456.51,688.45 457.2,689.29 457.86,690.14 458.4,691 458.82,691.87 459.18,692.77 459.51,693.68 459.81,694.59 460.1,695.5 460.4,696.4 460.71,697.3 461.02,698.21 461.32,699.12 461.6,700.01 461.86,700.88 462.1,701.7 462.31,702.42 462.51,703.04 462.68,703.64 462.83,704.28 462.95,705.04 463.05,706 463.11,707.17 463.14,708.5 463.14,709.94 463.13,711.48 463.11,713.08 463.1,714.7 463.1,716.43 463.09,718.31 463.08,720.24 463.07,722.15 463.04,723.93 463,725.5 462.93,726.87 462.84,728.13 462.74,729.26 462.64,730.26 462.55,731.14 462.5,731.9 462.48,732.48 462.47,732.89 462.48,733.16 462.51,733.37 462.55,733.56 462.6,733.8 462.68,734.08 462.79,734.36 462.91,734.62 463.03,734.86 463.13,735.05 463.2,735.2"/><clipPath id="cH0"><use href="#vH0"/></clipPath></defs>
<use href="#vH0" fill="#8080ff"/>
<line x1="449.95" y1="669.9" x2="477.25" y2="669.9" stroke="#000" stroke-width="2" clip-path="url(#cH0)"/>
<line x1="452" y1="663.5" x2="476.2" y2="663.5" stroke="#2020ff" stroke-width="1.2" stroke-dasharray="4 3" clip-path="url(#cH0)"/>
<line x1="455" y1="686.1" x2="473.2" y2="686.1" stroke="#2020ff" stroke-width="1.2" stroke-dasharray="4 3" clip-path="url(#cH0)"/>
<defs><polygon id="vH1" points="502.9,696.6 502.97,696.23 503.08,695.72 503.2,695.12 503.32,694.46 503.43,693.77 503.5,693.1 503.54,692.43 503.57,691.73 503.59,691 503.58,690.26 503.55,689.53 503.5,688.8 503.38,688.08 503.19,687.37 502.98,686.65 502.8,685.93 502.69,685.22 502.7,684.5 502.85,683.8 503.1,683.11 503.42,682.42 503.79,681.71 504.19,680.98 504.6,680.2 505.03,679.35 505.5,678.43 506,677.49 506.51,676.54 507.02,675.64 507.5,674.8 508.01,674.05 508.59,673.36 509.15,672.71 509.65,672.07 510.02,671.41 510.2,670.7 510.15,669.93 509.91,669.12 509.55,668.29 509.12,667.47 508.68,666.66 508.3,665.9 507.96,665.17 507.61,664.46 507.26,663.76 506.91,663.1 506.55,662.48 506.2,661.9 505.84,661.37 505.47,660.88 505.11,660.42 504.75,660.01 504.41,659.64 504.1,659.3 503.81,659.01 503.53,658.75 503.27,658.54 503.04,658.36 502.84,658.21 502.7,658.1 495.1,658.1 494.96,658.21 494.76,658.36 494.53,658.54 494.27,658.75 493.99,659.01 493.7,659.3 493.39,659.64 493.05,660.01 492.69,660.42 492.33,660.88 491.96,661.37 491.6,661.9 491.25,662.48 490.89,663.1 490.54,663.76 490.19,664.46 489.84,665.17 489.5,665.9 489.12,666.66 488.68,667.47 488.25,668.29 487.89,669.12 487.65,669.93 487.6,670.7 487.78,671.41 488.15,672.07 488.65,672.71 489.21,673.36 489.79,674.05 490.3,674.8 490.78,675.64 491.29,676.54 491.8,677.49 492.3,678.43 492.77,679.35 493.2,680.2 493.61,680.98 494.01,681.71 494.38,682.42 494.7,683.11 494.95,683.8 495.1,684.5 495.11,685.22 495,685.93 494.82,686.65 494.61,687.37 494.42,688.08 494.3,688.8 494.25,689.53 494.22,690.26 494.21,691 494.23,691.73 494.26,692.43 494.3,693.1 494.37,693.77 494.48,694.46 494.6,695.12 494.72,695.72 494.83,696.23 494.9,696.6"/><clipPath id="cH1"><use href="#vH1"/></clipPath></defs>
<use href="#vH1" fill="#ff8080"/>
<line x1="485.6" y1="670.7" x2="512.2" y2="670.7" stroke="#000" stroke-width="2" clip-path="url(#cH1)"/>
<line x1="489.5" y1="665.9" x2="509.3" y2="665.9" stroke="#ff2020" stroke-width="1.2" stroke-dasharray="4 3" clip-path="url(#cH1)"/>
<line x1="495.1" y1="684.5" x2="503.7" y2="684.5" stroke="#ff2020" stroke-width="1.2" stroke-dasharray="4 3" clip-path="url(#cH1)"/>
<defs><polygon id="vH2" points="535.6,697 535.61,696.93 535.61,696.89 535.62,696.82 535.63,696.64 535.64,696.29 535.65,695.7 535.65,694.77 535.64,693.54 535.63,692.14 535.63,690.69 535.65,689.34 535.7,688.2 535.78,687.3 535.88,686.53 536,685.85 536.14,685.21 536.31,684.58 536.5,683.9 536.74,683.18 537.04,682.47 537.36,681.75 537.68,681.03 537.97,680.32 538.2,679.6 538.37,678.88 538.5,678.16 538.59,677.44 538.67,676.72 538.74,676.01 538.8,675.3 538.84,674.61 538.86,673.93 538.86,673.26 538.87,672.59 538.91,671.9 539,671.2 539.15,670.47 539.35,669.73 539.58,668.97 539.82,668.21 540.06,667.45 540.3,666.7 540.53,665.95 540.76,665.2 541,664.45 541.24,663.71 541.47,662.99 541.7,662.3 541.92,661.63 542.13,660.98 542.33,660.34 542.54,659.73 542.76,659.15 543,658.6 543.27,658.09 543.56,657.63 543.87,657.19 544.17,656.76 544.45,656.34 544.7,655.9 544.93,655.45 545.16,655 545.37,654.55 545.54,654.1 545.66,653.65 545.7,653.2 545.67,652.76 545.59,652.32 545.45,651.89 545.26,651.44 545.01,650.98 544.7,650.5 544.31,649.98 543.81,649.44 543.27,648.88 542.71,648.31 542.17,647.75 541.7,647.2 541.29,646.66 540.91,646.13 540.56,645.59 540.23,645.06 539.91,644.53 539.6,644 539.3,643.45 539.01,642.89 538.73,642.33 538.47,641.78 538.23,641.26 538,640.8 537.79,640.38 537.61,640 537.44,639.64 537.28,639.33 537.14,639.04 537,638.8 536.87,638.6 536.75,638.44 536.64,638.32 536.54,638.23 536.46,638.16 536.4,638.1 532,638.1 531.94,638.16 531.86,638.23 531.76,638.32 531.65,638.44 531.53,638.6 531.4,638.8 531.26,639.04 531.12,639.33 530.96,639.64 530.79,640 530.61,640.38 530.4,640.8 530.17,641.26 529.93,641.78 529.67,642.33 529.39,642.89 529.1,643.45 528.8,644 528.49,644.53 528.17,645.06 527.84,645.59 527.49,646.13 527.11,646.66 526.7,647.2 526.23,647.75 525.69,648.31 525.13,648.88 524.59,649.44 524.09,649.98 523.7,650.5 523.39,650.98 523.14,651.44 522.95,651.89 522.81,652.32 522.73,652.76 522.7,653.2 522.74,653.65 522.86,654.1 523.03,654.55 523.24,655 523.47,655.45 523.7,655.9 523.95,656.34 524.23,656.76 524.53,657.19 524.84,657.63 525.13,658.09 525.4,658.6 525.64,659.15 525.86,659.73 526.07,660.34 526.27,660.98 526.48,661.63 526.7,662.3 526.93,662.99 527.16,663.71 527.4,664.45 527.64,665.2 527.87,665.95 528.1,666.7 528.34,667.45 528.58,668.21 528.83,668.97 529.05,669.73 529.25,670.47 529.4,671.2 529.49,671.9 529.53,672.59 529.54,673.26 529.54,673.93 529.56,674.61 529.6,675.3 529.66,676.01 529.73,676.72 529.81,677.44 529.9,678.16 530.03,678.88 530.2,679.6 530.43,680.32 530.72,681.03 531.04,681.75 531.36,682.47 531.66,683.18 531.9,683.9 532.09,684.58 532.26,685.21 532.4,685.85 532.52,686.53 532.62,687.3 532.7,688.2 532.75,689.34 532.77,690.69 532.77,692.14 532.76,693.54 532.75,694.77 532.75,695.7 532.76,696.29 532.77,696.64 532.78,696.82 532.79,696.89 532.79,696.93 532.8,697"/><clipPath id="cH2"><use href="#vH2"/></clipPath></defs>
<use href="#vH2" fill="#8080ff"/>
<line x1="520.7" y1="658.6" x2="547.7" y2="658.6" stroke="#000" stroke-width="2" clip-path="url(#cH2)"/>
<line x1="522.7" y1="653.2" x2="546.7" y2="653.2" stroke="#2020ff" stroke-width="1.2" stroke-dasharray="4 3" clip-path="url(#cH2)"/>
<line x1="529.4" y1="671.2" x2="540" y2="671.2" stroke="#2020ff" stroke-width="1.2" stroke-dasharray="4 3" clip-path="url(#cH2)"/>
<defs><polygon id="vH3" points="572.8,701.7 572.84,701.18 572.89,700.49 572.95,699.65 573.03,698.73 573.15,697.76 573.3,696.8 573.51,695.81 573.77,694.75 574.06,693.64 574.36,692.53 574.65,691.44 574.9,690.4 575.11,689.4 575.31,688.42 575.49,687.46 575.67,686.53 575.83,685.64 576,684.8 576.16,684.04 576.32,683.37 576.48,682.74 576.62,682.11 576.76,681.44 576.9,680.7 577.04,679.86 577.17,678.96 577.3,678.01 577.42,677.07 577.52,676.15 577.6,675.3 577.63,674.51 577.62,673.77 577.59,673.05 577.57,672.36 577.6,671.67 577.7,671 577.89,670.33 578.13,669.67 578.42,669.03 578.74,668.4 579.08,667.79 579.4,667.2 579.76,666.63 580.19,666.08 580.62,665.55 581.01,665.03 581.32,664.51 581.5,664 581.52,663.5 581.43,663.03 581.25,662.56 581.01,662.07 580.75,661.56 580.5,661 580.25,660.38 579.98,659.72 579.69,659.03 579.36,658.32 579,657.61 578.6,656.9 578.11,656.19 577.53,655.48 576.91,654.76 576.31,654.04 575.79,653.32 575.4,652.6 575.15,651.83 575.01,651.01 574.95,650.18 574.93,649.41 574.92,648.77 574.9,648.3 564.1,648.3 564.08,648.77 564.07,649.41 564.05,650.18 563.99,651.01 563.85,651.83 563.6,652.6 563.21,653.32 562.69,654.04 562.09,654.76 561.47,655.48 560.89,656.19 560.4,656.9 560,657.61 559.64,658.32 559.31,659.03 559.02,659.72 558.75,660.38 558.5,661 558.25,661.56 557.99,662.07 557.75,662.56 557.57,663.03 557.48,663.5 557.5,664 557.68,664.51 557.99,665.03 558.38,665.55 558.81,666.08 559.24,666.63 559.6,667.2 559.92,667.79 560.26,668.4 560.58,669.03 560.87,669.67 561.11,670.33 561.3,671 561.4,671.67 561.43,672.36 561.41,673.05 561.38,673.77 561.37,674.51 561.4,675.3 561.48,676.15 561.58,677.07 561.7,678.01 561.83,678.96 561.96,679.86 562.1,680.7 562.24,681.44 562.38,682.11 562.52,682.74 562.68,683.37 562.84,684.04 563,684.8 563.17,685.64 563.33,686.53 563.51,687.46 563.69,688.42 563.89,689.4 564.1,690.4 564.35,691.44 564.64,692.53 564.94,693.64 565.23,694.75 565.49,695.81 565.7,696.8 565.85,697.76 565.97,698.73 566.05,699.65 566.11,700.49 566.16,701.18 566.2,701.7"/><clipPath id="cH3"><use href="#vH3"/></clipPath></defs>
<use href="#vH3" fill="#ff8080"/>
<line x1="555.48" y1="671" x2="583.52" y2="671" stroke="#000" stroke-width="2" clip-path="url(#cH3)"/>
<line x1="558.5" y1="661" x2="581.5" y2="661" stroke="#ff2020" stroke-width="1.2" stroke-dasharray="4 3" clip-path="url(#cH3)"/>
<line x1="563" y1="684.8" x2="577" y2="684.8" stroke="#ff2020" stroke-width="1.2" stroke-dasharray="4 3" clip-path="url(#cH3)"/>
<path d="M439.85,601.45V755.5M433.5,755.5H594.3" stroke="#000" stroke-width="1.5" fill="none"/>
<line x1="433.7" y1="755.5" x2="439.85" y2="755.5" stroke="#000" stroke-width="1.5"/>
<text x="431.7" y="759.9" text-anchor="end" class="t">0</text>
<line x1="433.7" y1="704.4" x2="439.85" y2="704.4" stroke="#000" stroke-width="1.5"/>
<text x="431.7" y="708.8" text-anchor="end" class="t">500</text>
<line x1="433.7" y1="653.3" x2="439.85" y2="653.3" stroke="#000" stroke-width="1.5"/>
<text x="431.7" y="657.7" text-anchor="end" class="t">1000</text>
<line x1="433.7" y1="602.2" x2="439.85" y2="602.2" stroke="#000" stroke-width="1.5"/>
<text x="431.7" y="606.6" text-anchor="end" class="t">1500</text>
<line x1="463.6" y1="755.5" x2="463.6" y2="761.5" stroke="#000" stroke-width="1.5"/>
<text x="467.2" y="773.4" text-anchor="end" class="x" transform="rotate(-45 467.2 773.4)">BCT (pre)</text>
<line x1="498.9" y1="755.5" x2="498.9" y2="761.5" stroke="#000" stroke-width="1.5"/>
<text x="502.5" y="773.4" text-anchor="end" class="x" transform="rotate(-45 502.5 773.4)">Usual care (pre)</text>
<line x1="534.2" y1="755.5" x2="534.2" y2="761.5" stroke="#000" stroke-width="1.5"/>
<text x="537.8" y="773.4" text-anchor="end" class="x" transform="rotate(-45 537.8 773.4)">BCT (post)</text>
<line x1="569.5" y1="755.5" x2="569.5" y2="761.5" stroke="#000" stroke-width="1.5"/>
<text x="573.1" y="773.4" text-anchor="end" class="x" transform="rotate(-45 573.1 773.4)">Usual care (post)</text>
<text x="419.4" y="586.3" class="L">H</text>
<path d="M301.6,58.75V49.65H375.1V58.75" stroke="#000" stroke-width="2.1" fill="none"/>
<text x="338.35" y="42.75" text-anchor="middle" class="p">p=0.010</text>
<path d="M337.7,29.3V22H409V29.3" stroke="#000" stroke-width="2.1" fill="none"/>
<text x="373.35" y="15.4" text-anchor="middle" class="p">p=0.033</text>
<path d="M551.9,82.2V75.1H623.3V82.2" stroke="#000" stroke-width="2.1" fill="none"/>
<text x="587.6" y="68.5" text-anchor="middle" class="p">p=0.024</text>
<path d="M587.2,56.5V49H658.5V56.5" stroke="#000" stroke-width="2.1" fill="none"/>
<text x="622.85" y="42.4" text-anchor="middle" class="p">p=0.021</text>
<path d="M52.2,348.5V341.3H122.9V348.5" stroke="#000" stroke-width="2.1" fill="none"/>
<text x="87.55" y="334.6" text-anchor="middle" class="p">p=0.018</text>
<path d="M88,318.6V311.5H156.4V318.6" stroke="#000" stroke-width="2.1" fill="none"/>
<text x="122.2" y="304.9" text-anchor="middle" class="p">p=0.033</text>
<path d="M302.4,339.9V332.6H375.9V339.9" stroke="#000" stroke-width="2.1" fill="none"/>
<text x="339.15" y="326.3" text-anchor="middle" class="p">p=0.020</text>
<path d="M551.2,316.1V309H623.3V316.1" stroke="#000" stroke-width="2.1" fill="none"/>
<text x="587.25" y="302.4" text-anchor="middle" class="p">p&lt;0.001</text>
<path d="M552.1,328.8V341.7M552.1,335.1H588.8M588.8,328.8V341.7" stroke="#000" stroke-width="2.1" fill="none"/>
<text x="570.45" y="328.4" text-anchor="middle" class="p">p=0.035</text>
<path d="M623.3,327.3V340.2M623.3,333.9H658.1M658.1,327.3V340.2" stroke="#000" stroke-width="2.1" fill="none"/>
<text x="640.7" y="326.9" text-anchor="middle" class="p">p=0.042</text>
<path d="M170.4,601.9V595.1H239.9V601.9" stroke="#000" stroke-width="2.1" fill="none"/>
<text x="205.15" y="588.5" text-anchor="middle" class="p">p&lt;0.001</text>
<path d="M240.3,610.5V623.5M240.3,617.5H275.8M275.8,610.5V623.5" stroke="#000" stroke-width="2.1" fill="none"/>
<text x="258.05" y="610.8" text-anchor="middle" class="p">p=0.045</text>
<path d="M463.2,601.9V594.7H532.5V601.9" stroke="#000" stroke-width="2.1" fill="none"/>
<text x="497.85" y="588.1" text-anchor="middle" class="p">p&lt;0.001</text>
<path d="M533,610.5V623.5M533,617H568.9M568.9,610.5V623.5" stroke="#000" stroke-width="2.1" fill="none"/>
<text x="550.95" y="610.3" text-anchor="middle" class="p">p=0.002</text>
</svg>
</body></html>
